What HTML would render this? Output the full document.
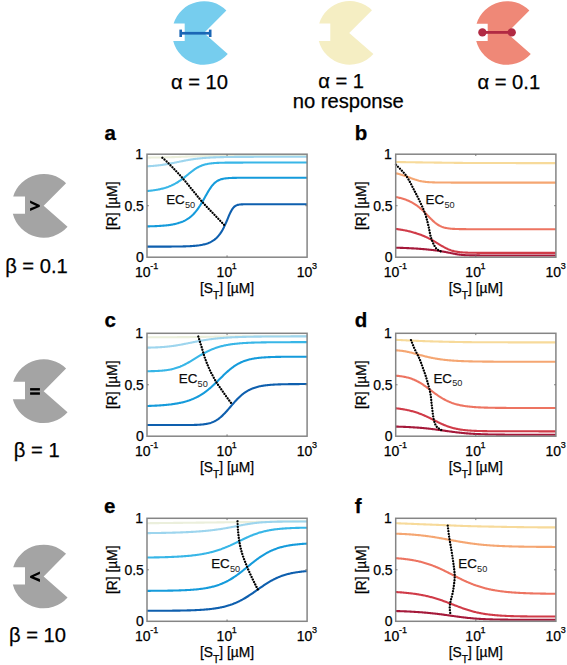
<!DOCTYPE html>
<html><head><meta charset="utf-8"><style>
html,body{margin:0;padding:0;background:#fff;}
svg{display:block;}
text{font-family:"Liberation Sans", sans-serif;stroke:#000;stroke-width:0.25px;}
</style></head><body>
<svg width="567" height="665" viewBox="0 0 567 665">
<rect width="567" height="665" fill="#fff"/>
<path d="M204.00 33.00 L226.37 10.40 A31.80 31.80 0 0 0 173.62 23.60 L184.70 23.60 L184.70 40.90 L173.20 40.90 A31.80 31.80 0 0 0 227.78 54.11 Z" fill="#76cdee"/>
<path d="M349.20 32.90 L371.97 10.30 A31.80 31.80 0 0 0 319.22 23.50 L330.30 23.50 L330.30 40.90 L318.82 40.90 A31.80 31.80 0 0 0 373.38 54.01 Z" fill="#f5eec3"/>
<path d="M507.00 33.00 L529.37 10.40 A31.80 31.80 0 0 0 476.59 23.70 L487.70 23.70 L487.70 41.00 L476.22 41.00 A31.80 31.80 0 0 0 530.78 54.11 Z" fill="#ef8877"/>
<g fill="#1a66b5"><rect x="181" y="31.9" width="29" height="2.7"/><rect x="179.4" y="29.6" width="2.6" height="7.4"/><rect x="208.9" y="29.6" width="2.6" height="7.4"/></g>
<g fill="#b12a43"><rect x="482.4" y="31.0" width="29.3" height="2.8"/><circle cx="482.4" cy="32.4" r="4.2"/><circle cx="511.7" cy="32.4" r="4.2"/></g>
<path d="M43.66 205.80 L66.06 183.16 A31.85 31.85 0 0 0 13.20 196.50 L25.00 196.50 L25.00 213.80 L12.83 213.80 A31.85 31.85 0 0 0 67.55 226.86 Z" fill="#a4a4a4"/>
<path d="M43.66 391.15 L66.06 368.51 A31.85 31.85 0 0 0 13.20 381.85 L25.00 381.85 L25.00 399.15 L12.83 399.15 A31.85 31.85 0 0 0 67.55 412.21 Z" fill="#a4a4a4"/>
<path d="M43.66 576.50 L66.06 553.86 A31.85 31.85 0 0 0 13.20 567.20 L25.00 567.20 L25.00 584.50 L12.83 584.50 A31.85 31.85 0 0 0 67.55 597.56 Z" fill="#a4a4a4"/>
<g fill="#000"><path d="M30.1 200.4 L39.8 205.1 L39.8 206.7 L30.1 211.1 L30.1 208.3 L36.3 205.9 L30.1 203.1 Z"/><path d="M39.9 571.4 L30.1 576.0 L30.1 577.7 L39.9 581.9 L39.9 579.0 L33.7 576.85 L39.9 574.1 Z"/><rect x="30.1" y="388.1" width="9.8" height="2.4"/><rect x="30.1" y="392.3" width="9.8" height="2.45"/></g>
<text x="170.94" y="88.90" font-size="20.20" font-weight="normal" fill="#000">α = 10</text>
<text x="318.20" y="88.40" font-size="20.20" font-weight="normal" fill="#000">α = 1</text>
<text x="292.74" y="108.20" font-size="20.20" font-weight="normal" fill="#000">no response</text>
<text x="477.43" y="88.90" font-size="20.20" font-weight="normal" fill="#000">α = 0.1</text>
<text x="5.13" y="273.30" font-size="20.20" font-weight="normal" fill="#000">β = 0.1</text>
<text x="13.81" y="456.50" font-size="20.20" font-weight="normal" fill="#000">β = 1</text>
<text x="8.94" y="642.00" font-size="20.20" font-weight="normal" fill="#000">β = 10</text>
<path d="M147.00 157.60 L147.80 157.59 L148.61 157.59 L149.41 157.58 L150.22 157.58 L151.02 157.57 L151.83 157.56 L152.63 157.55 L153.44 157.55 L154.24 157.54 L155.05 157.53 L155.85 157.52 L156.65 157.51 L157.46 157.49 L158.26 157.48 L159.07 157.47 L159.87 157.46 L160.68 157.44 L161.48 157.43 L162.29 157.41 L163.09 157.39 L163.89 157.38 L164.70 157.36 L165.50 157.34 L166.31 157.32 L167.11 157.30 L167.92 157.28 L168.72 157.25 L169.53 157.23 L170.33 157.21 L171.14 157.18 L171.94 157.16 L172.74 157.13 L173.55 157.10 L174.35 157.08 L175.16 157.05 L175.96 157.02 L176.77 156.99 L177.57 156.96 L178.38 156.93 L179.18 156.90 L179.99 156.87 L180.79 156.84 L181.59 156.81 L182.40 156.77 L183.20 156.74 L184.01 156.71 L184.81 156.68 L185.62 156.65 L186.42 156.62 L187.23 156.59 L188.03 156.56 L188.84 156.53 L189.64 156.50 L190.44 156.47 L191.25 156.44 L192.05 156.41 L192.86 156.38 L193.66 156.36 L194.47 156.33 L195.27 156.30 L196.08 156.28 L196.88 156.26 L197.68 156.23 L198.49 156.21 L199.29 156.19 L200.10 156.17 L200.90 156.14 L201.71 156.12 L202.51 156.10 L203.32 156.09 L204.12 156.07 L204.93 156.05 L205.73 156.03 L206.53 156.02 L207.34 156.00 L208.14 155.99 L208.95 155.97 L209.75 155.96 L210.56 155.95 L211.36 155.94 L212.17 155.92 L212.97 155.91 L213.78 155.90 L214.58 155.89 L215.38 155.88 L216.19 155.87 L216.99 155.87 L217.80 155.86 L218.60 155.85 L219.41 155.84 L220.21 155.83 L221.02 155.83 L221.82 155.82 L222.63 155.81 L223.43 155.81 L224.23 155.80 L225.04 155.80 L225.84 155.79 L226.65 155.79 L227.45 155.78 L228.26 155.78 L229.06 155.78 L229.87 155.77 L230.67 155.77 L231.47 155.77 L232.28 155.76 L233.08 155.76 L233.89 155.76 L234.69 155.75 L235.50 155.75 L236.30 155.75 L237.11 155.75 L237.91 155.74 L238.72 155.74 L239.52 155.74 L240.32 155.74 L241.13 155.74 L241.93 155.73 L242.74 155.73 L243.54 155.73 L244.35 155.73 L245.15 155.73 L245.96 155.73 L246.76 155.73 L247.57 155.73 L248.37 155.72 L249.17 155.72 L249.98 155.72 L250.78 155.72 L251.59 155.72 L252.39 155.72 L253.20 155.72 L254.00 155.72 L254.81 155.72 L255.61 155.72 L256.42 155.72 L257.22 155.72 L258.02 155.72 L258.83 155.71 L259.63 155.71 L260.44 155.71 L261.24 155.71 L262.05 155.71 L262.85 155.71 L263.66 155.71 L264.46 155.71 L265.26 155.71 L266.07 155.71 L266.87 155.71 L267.68 155.71 L268.48 155.71 L269.29 155.71 L270.09 155.71 L270.90 155.71 L271.70 155.71 L272.51 155.71 L273.31 155.71 L274.11 155.71 L274.92 155.71 L275.72 155.71 L276.53 155.71 L277.33 155.71 L278.14 155.71 L278.94 155.71 L279.75 155.71 L280.55 155.71 L281.36 155.71 L282.16 155.71 L282.96 155.71 L283.77 155.71 L284.57 155.71 L285.38 155.71 L286.18 155.71 L286.99 155.71 L287.79 155.71 L288.60 155.71 L289.40 155.71 L290.21 155.71 L291.01 155.71 L291.81 155.71 L292.62 155.71 L293.42 155.71 L294.23 155.71 L295.03 155.71 L295.84 155.71 L296.64 155.71 L297.45 155.71 L298.25 155.71 L299.05 155.71 L299.86 155.71 L300.66 155.71 L301.47 155.71 L302.27 155.71 L303.08 155.71 L303.88 155.71 L304.69 155.71 L305.49 155.71 L306.30 155.71 L307.10 155.71" stroke="#ebefdc" stroke-width="2.1" fill="none" stroke-linejoin="round"/>
<path d="M147.00 166.28 L147.80 166.24 L148.61 166.20 L149.41 166.15 L150.22 166.10 L151.02 166.05 L151.83 165.99 L152.63 165.93 L153.44 165.87 L154.24 165.80 L155.05 165.73 L155.85 165.65 L156.65 165.58 L157.46 165.49 L158.26 165.40 L159.07 165.31 L159.87 165.21 L160.68 165.11 L161.48 165.01 L162.29 164.90 L163.09 164.78 L163.89 164.66 L164.70 164.54 L165.50 164.41 L166.31 164.28 L167.11 164.14 L167.92 164.00 L168.72 163.86 L169.53 163.71 L170.33 163.56 L171.14 163.40 L171.94 163.24 L172.74 163.08 L173.55 162.92 L174.35 162.76 L175.16 162.59 L175.96 162.43 L176.77 162.26 L177.57 162.09 L178.38 161.92 L179.18 161.76 L179.99 161.59 L180.79 161.42 L181.59 161.26 L182.40 161.10 L183.20 160.94 L184.01 160.78 L184.81 160.62 L185.62 160.47 L186.42 160.32 L187.23 160.17 L188.03 160.03 L188.84 159.89 L189.64 159.75 L190.44 159.62 L191.25 159.49 L192.05 159.37 L192.86 159.25 L193.66 159.13 L194.47 159.02 L195.27 158.91 L196.08 158.81 L196.88 158.71 L197.68 158.61 L198.49 158.52 L199.29 158.43 L200.10 158.35 L200.90 158.27 L201.71 158.19 L202.51 158.12 L203.32 158.05 L204.12 157.98 L204.93 157.92 L205.73 157.85 L206.53 157.80 L207.34 157.74 L208.14 157.69 L208.95 157.64 L209.75 157.59 L210.56 157.55 L211.36 157.51 L212.17 157.47 L212.97 157.43 L213.78 157.39 L214.58 157.36 L215.38 157.33 L216.19 157.30 L216.99 157.27 L217.80 157.24 L218.60 157.21 L219.41 157.19 L220.21 157.17 L221.02 157.15 L221.82 157.13 L222.63 157.11 L223.43 157.09 L224.23 157.07 L225.04 157.06 L225.84 157.04 L226.65 157.03 L227.45 157.01 L228.26 157.00 L229.06 156.99 L229.87 156.98 L230.67 156.97 L231.47 156.96 L232.28 156.95 L233.08 156.94 L233.89 156.93 L234.69 156.92 L235.50 156.91 L236.30 156.91 L237.11 156.90 L237.91 156.89 L238.72 156.89 L239.52 156.88 L240.32 156.88 L241.13 156.87 L241.93 156.87 L242.74 156.86 L243.54 156.86 L244.35 156.86 L245.15 156.85 L245.96 156.85 L246.76 156.85 L247.57 156.84 L248.37 156.84 L249.17 156.84 L249.98 156.83 L250.78 156.83 L251.59 156.83 L252.39 156.83 L253.20 156.83 L254.00 156.82 L254.81 156.82 L255.61 156.82 L256.42 156.82 L257.22 156.82 L258.02 156.82 L258.83 156.82 L259.63 156.81 L260.44 156.81 L261.24 156.81 L262.05 156.81 L262.85 156.81 L263.66 156.81 L264.46 156.81 L265.26 156.81 L266.07 156.81 L266.87 156.81 L267.68 156.81 L268.48 156.80 L269.29 156.80 L270.09 156.80 L270.90 156.80 L271.70 156.80 L272.51 156.80 L273.31 156.80 L274.11 156.80 L274.92 156.80 L275.72 156.80 L276.53 156.80 L277.33 156.80 L278.14 156.80 L278.94 156.80 L279.75 156.80 L280.55 156.80 L281.36 156.80 L282.16 156.80 L282.96 156.80 L283.77 156.80 L284.57 156.80 L285.38 156.80 L286.18 156.80 L286.99 156.80 L287.79 156.80 L288.60 156.80 L289.40 156.80 L290.21 156.80 L291.01 156.80 L291.81 156.80 L292.62 156.80 L293.42 156.80 L294.23 156.80 L295.03 156.80 L295.84 156.80 L296.64 156.80 L297.45 156.80 L298.25 156.80 L299.05 156.80 L299.86 156.80 L300.66 156.80 L301.47 156.80 L302.27 156.80 L303.08 156.80 L303.88 156.80 L304.69 156.80 L305.49 156.80 L306.30 156.80 L307.10 156.80" stroke="#9dd5ee" stroke-width="2.1" fill="none" stroke-linejoin="round"/>
<path d="M147.00 191.07 L147.80 190.99 L148.61 190.91 L149.41 190.82 L150.22 190.73 L151.02 190.64 L151.83 190.54 L152.63 190.43 L153.44 190.32 L154.24 190.20 L155.05 190.08 L155.85 189.95 L156.65 189.81 L157.46 189.67 L158.26 189.51 L159.07 189.35 L159.87 189.18 L160.68 189.00 L161.48 188.82 L162.29 188.62 L163.09 188.41 L163.89 188.19 L164.70 187.96 L165.50 187.71 L166.31 187.46 L167.11 187.19 L167.92 186.91 L168.72 186.61 L169.53 186.30 L170.33 185.97 L171.14 185.63 L171.94 185.27 L172.74 184.89 L173.55 184.49 L174.35 184.08 L175.16 183.65 L175.96 183.20 L176.77 182.73 L177.57 182.24 L178.38 181.74 L179.18 181.21 L179.99 180.67 L180.79 180.10 L181.59 179.52 L182.40 178.93 L183.20 178.32 L184.01 177.69 L184.81 177.06 L185.62 176.41 L186.42 175.76 L187.23 175.10 L188.03 174.45 L188.84 173.79 L189.64 173.14 L190.44 172.49 L191.25 171.85 L192.05 171.23 L192.86 170.63 L193.66 170.04 L194.47 169.47 L195.27 168.93 L196.08 168.42 L196.88 167.93 L197.68 167.46 L198.49 167.03 L199.29 166.63 L200.10 166.25 L200.90 165.90 L201.71 165.58 L202.51 165.28 L203.32 165.01 L204.12 164.76 L204.93 164.54 L205.73 164.33 L206.53 164.15 L207.34 163.98 L208.14 163.83 L208.95 163.69 L209.75 163.57 L210.56 163.46 L211.36 163.36 L212.17 163.27 L212.97 163.20 L213.78 163.13 L214.58 163.06 L215.38 163.01 L216.19 162.96 L216.99 162.91 L217.80 162.88 L218.60 162.84 L219.41 162.81 L220.21 162.78 L221.02 162.76 L221.82 162.74 L222.63 162.72 L223.43 162.70 L224.23 162.69 L225.04 162.67 L225.84 162.66 L226.65 162.65 L227.45 162.64 L228.26 162.63 L229.06 162.62 L229.87 162.62 L230.67 162.61 L231.47 162.61 L232.28 162.60 L233.08 162.60 L233.89 162.60 L234.69 162.59 L235.50 162.59 L236.30 162.59 L237.11 162.58 L237.91 162.58 L238.72 162.58 L239.52 162.58 L240.32 162.58 L241.13 162.58 L241.93 162.58 L242.74 162.58 L243.54 162.57 L244.35 162.57 L245.15 162.57 L245.96 162.57 L246.76 162.57 L247.57 162.57 L248.37 162.57 L249.17 162.57 L249.98 162.57 L250.78 162.57 L251.59 162.57 L252.39 162.57 L253.20 162.57 L254.00 162.57 L254.81 162.57 L255.61 162.57 L256.42 162.57 L257.22 162.57 L258.02 162.57 L258.83 162.57 L259.63 162.57 L260.44 162.57 L261.24 162.57 L262.05 162.57 L262.85 162.57 L263.66 162.57 L264.46 162.57 L265.26 162.57 L266.07 162.57 L266.87 162.57 L267.68 162.57 L268.48 162.57 L269.29 162.57 L270.09 162.57 L270.90 162.57 L271.70 162.57 L272.51 162.57 L273.31 162.57 L274.11 162.57 L274.92 162.57 L275.72 162.57 L276.53 162.57 L277.33 162.57 L278.14 162.57 L278.94 162.57 L279.75 162.57 L280.55 162.57 L281.36 162.57 L282.16 162.57 L282.96 162.57 L283.77 162.57 L284.57 162.57 L285.38 162.57 L286.18 162.57 L286.99 162.57 L287.79 162.57 L288.60 162.57 L289.40 162.57 L290.21 162.57 L291.01 162.57 L291.81 162.57 L292.62 162.57 L293.42 162.57 L294.23 162.57 L295.03 162.57 L295.84 162.57 L296.64 162.57 L297.45 162.57 L298.25 162.57 L299.05 162.57 L299.86 162.57 L300.66 162.57 L301.47 162.57 L302.27 162.57 L303.08 162.57 L303.88 162.57 L304.69 162.57 L305.49 162.57 L306.30 162.57 L307.10 162.57" stroke="#38b6e7" stroke-width="2.1" fill="none" stroke-linejoin="round"/>
<path d="M147.00 226.39 L147.80 226.37 L148.61 226.35 L149.41 226.33 L150.22 226.31 L151.02 226.29 L151.83 226.26 L152.63 226.24 L153.44 226.21 L154.24 226.18 L155.05 226.15 L155.85 226.11 L156.65 226.08 L157.46 226.04 L158.26 226.00 L159.07 225.95 L159.87 225.90 L160.68 225.85 L161.48 225.80 L162.29 225.74 L163.09 225.67 L163.89 225.61 L164.70 225.53 L165.50 225.46 L166.31 225.37 L167.11 225.28 L167.92 225.19 L168.72 225.09 L169.53 224.98 L170.33 224.86 L171.14 224.73 L171.94 224.60 L172.74 224.46 L173.55 224.30 L174.35 224.14 L175.16 223.96 L175.96 223.77 L176.77 223.57 L177.57 223.35 L178.38 223.12 L179.18 222.87 L179.99 222.61 L180.79 222.32 L181.59 222.02 L182.40 221.69 L183.20 221.35 L184.01 220.97 L184.81 220.58 L185.62 220.15 L186.42 219.70 L187.23 219.21 L188.03 218.69 L188.84 218.13 L189.64 217.54 L190.44 216.91 L191.25 216.24 L192.05 215.52 L192.86 214.75 L193.66 213.94 L194.47 213.08 L195.27 212.16 L196.08 211.19 L196.88 210.17 L197.68 209.09 L198.49 207.96 L199.29 206.78 L200.10 205.54 L200.90 204.25 L201.71 202.92 L202.51 201.54 L203.32 200.14 L204.12 198.72 L204.93 197.28 L205.73 195.83 L206.53 194.40 L207.34 193.00 L208.14 191.62 L208.95 190.30 L209.75 189.04 L210.56 187.84 L211.36 186.72 L212.17 185.68 L212.97 184.73 L213.78 183.86 L214.58 183.08 L215.38 182.38 L216.19 181.75 L216.99 181.20 L217.80 180.72 L218.60 180.30 L219.41 179.93 L220.21 179.61 L221.02 179.34 L221.82 179.11 L222.63 178.90 L223.43 178.73 L224.23 178.58 L225.04 178.46 L225.84 178.35 L226.65 178.26 L227.45 178.19 L228.26 178.12 L229.06 178.06 L229.87 178.02 L230.67 177.98 L231.47 177.95 L232.28 177.92 L233.08 177.89 L233.89 177.87 L234.69 177.86 L235.50 177.84 L236.30 177.83 L237.11 177.82 L237.91 177.81 L238.72 177.80 L239.52 177.80 L240.32 177.79 L241.13 177.79 L241.93 177.78 L242.74 177.78 L243.54 177.78 L244.35 177.78 L245.15 177.77 L245.96 177.77 L246.76 177.77 L247.57 177.77 L248.37 177.77 L249.17 177.77 L249.98 177.77 L250.78 177.77 L251.59 177.77 L252.39 177.77 L253.20 177.77 L254.00 177.76 L254.81 177.76 L255.61 177.76 L256.42 177.76 L257.22 177.76 L258.02 177.76 L258.83 177.76 L259.63 177.76 L260.44 177.76 L261.24 177.76 L262.05 177.76 L262.85 177.76 L263.66 177.76 L264.46 177.76 L265.26 177.76 L266.07 177.76 L266.87 177.76 L267.68 177.76 L268.48 177.76 L269.29 177.76 L270.09 177.76 L270.90 177.76 L271.70 177.76 L272.51 177.76 L273.31 177.76 L274.11 177.76 L274.92 177.76 L275.72 177.76 L276.53 177.76 L277.33 177.76 L278.14 177.76 L278.94 177.76 L279.75 177.76 L280.55 177.76 L281.36 177.76 L282.16 177.76 L282.96 177.76 L283.77 177.76 L284.57 177.76 L285.38 177.76 L286.18 177.76 L286.99 177.76 L287.79 177.76 L288.60 177.76 L289.40 177.76 L290.21 177.76 L291.01 177.76 L291.81 177.76 L292.62 177.76 L293.42 177.76 L294.23 177.76 L295.03 177.76 L295.84 177.76 L296.64 177.76 L297.45 177.76 L298.25 177.76 L299.05 177.76 L299.86 177.76 L300.66 177.76 L301.47 177.76 L302.27 177.76 L303.08 177.76 L303.88 177.76 L304.69 177.76 L305.49 177.76 L306.30 177.76 L307.10 177.76" stroke="#159bdb" stroke-width="2.1" fill="none" stroke-linejoin="round"/>
<path d="M147.00 246.63 L147.80 246.63 L148.61 246.63 L149.41 246.63 L150.22 246.63 L151.02 246.63 L151.83 246.63 L152.63 246.63 L153.44 246.63 L154.24 246.63 L155.05 246.63 L155.85 246.62 L156.65 246.62 L157.46 246.62 L158.26 246.62 L159.07 246.62 L159.87 246.62 L160.68 246.62 L161.48 246.61 L162.29 246.61 L163.09 246.61 L163.89 246.61 L164.70 246.61 L165.50 246.60 L166.31 246.60 L167.11 246.60 L167.92 246.59 L168.72 246.59 L169.53 246.59 L170.33 246.58 L171.14 246.58 L171.94 246.57 L172.74 246.56 L173.55 246.56 L174.35 246.55 L175.16 246.54 L175.96 246.53 L176.77 246.52 L177.57 246.51 L178.38 246.50 L179.18 246.49 L179.99 246.48 L180.79 246.46 L181.59 246.45 L182.40 246.43 L183.20 246.41 L184.01 246.39 L184.81 246.37 L185.62 246.34 L186.42 246.31 L187.23 246.28 L188.03 246.25 L188.84 246.22 L189.64 246.18 L190.44 246.14 L191.25 246.09 L192.05 246.04 L192.86 245.98 L193.66 245.92 L194.47 245.86 L195.27 245.79 L196.08 245.71 L196.88 245.62 L197.68 245.53 L198.49 245.43 L199.29 245.32 L200.10 245.19 L200.90 245.06 L201.71 244.92 L202.51 244.76 L203.32 244.58 L204.12 244.39 L204.93 244.19 L205.73 243.96 L206.53 243.71 L207.34 243.44 L208.14 243.15 L208.95 242.83 L209.75 242.48 L210.56 242.09 L211.36 241.67 L212.17 241.21 L212.97 240.71 L213.78 240.17 L214.58 239.57 L215.38 238.92 L216.19 238.21 L216.99 237.43 L217.80 236.59 L218.60 235.67 L219.41 234.66 L220.21 233.57 L221.02 232.38 L221.82 231.10 L222.63 229.70 L223.43 228.21 L224.23 226.60 L225.04 224.89 L225.84 223.09 L226.65 221.21 L227.45 219.29 L228.26 217.35 L229.06 215.45 L229.87 213.63 L230.67 211.94 L231.47 210.43 L232.28 209.12 L233.08 208.02 L233.89 207.12 L234.69 206.41 L235.50 205.85 L236.30 205.43 L237.11 205.11 L237.91 204.88 L238.72 204.70 L239.52 204.57 L240.32 204.48 L241.13 204.41 L241.93 204.36 L242.74 204.33 L243.54 204.30 L244.35 204.28 L245.15 204.27 L245.96 204.26 L246.76 204.25 L247.57 204.25 L248.37 204.24 L249.17 204.24 L249.98 204.24 L250.78 204.24 L251.59 204.24 L252.39 204.24 L253.20 204.24 L254.00 204.23 L254.81 204.23 L255.61 204.23 L256.42 204.23 L257.22 204.23 L258.02 204.23 L258.83 204.23 L259.63 204.23 L260.44 204.23 L261.24 204.23 L262.05 204.23 L262.85 204.23 L263.66 204.23 L264.46 204.23 L265.26 204.23 L266.07 204.23 L266.87 204.23 L267.68 204.23 L268.48 204.23 L269.29 204.23 L270.09 204.23 L270.90 204.23 L271.70 204.23 L272.51 204.23 L273.31 204.23 L274.11 204.23 L274.92 204.23 L275.72 204.23 L276.53 204.23 L277.33 204.23 L278.14 204.23 L278.94 204.23 L279.75 204.23 L280.55 204.23 L281.36 204.23 L282.16 204.23 L282.96 204.23 L283.77 204.23 L284.57 204.23 L285.38 204.23 L286.18 204.23 L286.99 204.23 L287.79 204.23 L288.60 204.23 L289.40 204.23 L290.21 204.23 L291.01 204.23 L291.81 204.23 L292.62 204.23 L293.42 204.23 L294.23 204.23 L295.03 204.23 L295.84 204.23 L296.64 204.23 L297.45 204.23 L298.25 204.23 L299.05 204.23 L299.86 204.23 L300.66 204.23 L301.47 204.23 L302.27 204.23 L303.08 204.23 L303.88 204.23 L304.69 204.23 L305.49 204.23 L306.30 204.23 L307.10 204.23" stroke="#0e5fae" stroke-width="2.1" fill="none" stroke-linejoin="round"/>
<path d="M162.40 157.80 L162.68 158.04 L162.93 158.27 L163.17 158.47 L163.41 158.66 L163.63 158.85 L163.85 159.02 L164.06 159.20 L164.28 159.37 L164.50 159.55 L164.72 159.74 L164.96 159.94 L165.22 160.16 L165.48 160.40 L165.77 160.66 L166.08 160.94 L166.42 161.26 L166.79 161.61 L167.19 162.00 L167.63 162.43 L168.10 162.90 L168.62 163.42 L169.18 163.99 L169.79 164.61 L170.43 165.26 L171.10 165.95 L171.80 166.67 L172.53 167.41 L173.27 168.18 L174.03 168.97 L174.81 169.78 L175.58 170.59 L176.37 171.41 L177.14 172.23 L177.92 173.05 L178.68 173.86 L179.43 174.67 L180.16 175.46 L180.87 176.23 L181.55 176.98 L182.20 177.70 L182.83 178.41 L183.45 179.11 L184.06 179.82 L184.66 180.52 L185.25 181.22 L185.84 181.92 L186.42 182.62 L186.99 183.31 L187.55 184.00 L188.11 184.69 L188.66 185.37 L189.21 186.04 L189.75 186.71 L190.29 187.37 L190.82 188.03 L191.34 188.68 L191.86 189.32 L192.38 189.96 L192.89 190.58 L193.40 191.20 L193.90 191.81 L194.39 192.40 L194.86 192.98 L195.32 193.55 L195.78 194.11 L196.22 194.66 L196.66 195.21 L197.10 195.75 L197.53 196.29 L197.96 196.82 L198.39 197.35 L198.82 197.88 L199.26 198.41 L199.70 198.93 L200.14 199.47 L200.59 200.00 L201.05 200.54 L201.52 201.09 L202.00 201.64 L202.50 202.20 L203.01 202.77 L203.52 203.34 L204.05 203.91 L204.58 204.49 L205.12 205.07 L205.67 205.65 L206.22 206.23 L206.78 206.82 L207.34 207.40 L207.90 207.99 L208.46 208.57 L209.03 209.16 L209.60 209.75 L210.16 210.33 L210.73 210.91 L211.29 211.50 L211.85 212.08 L212.40 212.65 L212.95 213.23 L213.50 213.80 L214.04 214.37 L214.58 214.94 L215.12 215.50 L215.66 216.07 L216.20 216.63 L216.73 217.19 L217.27 217.75 L217.80 218.31 L218.34 218.87 L218.87 219.43 L219.40 219.98 L219.93 220.54 L220.47 221.10 L221.00 221.65 L221.53 222.21 L222.06 222.77 L222.60 223.32 L223.13 223.88 L223.67 224.44 L224.20 225.00" stroke="#000" stroke-width="2.35" fill="none" stroke-linecap="round" stroke-dasharray="0.01 2.75"/>
<rect x="147.00" y="154.20" width="160.10" height="103.00" fill="none" stroke="#858585" stroke-width="1.5"/>
<path d="M147.00 205.70 h1.8 M307.10 205.70 h-1.8 M227.05 257.20 v-1.8 M227.05 154.20 v1.8" stroke="#777" stroke-width="1"/>
<text x="136.06" y="262.15" font-size="14.00" font-weight="normal" fill="#000">0</text>
<text x="124.43" y="210.65" font-size="14.00" font-weight="normal" fill="#000">0.5</text>
<text x="135.30" y="159.00" font-size="14.00" font-weight="normal" fill="#000">1</text>
<text x="135.05" y="276.90" font-size="14.00">10</text>
<text x="150.32" y="268.80" font-size="9.00">-1</text>
<text x="216.60" y="276.90" font-size="14.00">10</text>
<text x="231.87" y="268.80" font-size="9.00">1</text>
<text x="296.63" y="276.90" font-size="14.00">10</text>
<text x="311.90" y="268.80" font-size="9.00">3</text>
<text x="199.99" y="292.50" font-size="13.80">[S</text>
<text x="213.03" y="299.20" font-size="10.30">T</text>
<text x="219.32" y="292.50" font-size="13.80">] [µM]</text>
<text transform="translate(117.04 205.70) rotate(-90)" x="-24.29" y="0" font-size="13.80">[R] [µM]</text>
<text x="166.21" y="204.00" font-size="13.30" font-weight="normal" fill="#111">EC</text>
<text x="184.98" y="207.60" font-size="9.2" fill="#222" style="stroke:none">50</text>
<path d="M395.70 162.00 L396.50 162.01 L397.31 162.03 L398.11 162.04 L398.91 162.06 L399.72 162.07 L400.52 162.08 L401.32 162.10 L402.13 162.11 L402.93 162.12 L403.74 162.14 L404.54 162.15 L405.34 162.16 L406.15 162.18 L406.95 162.19 L407.75 162.20 L408.56 162.22 L409.36 162.23 L410.16 162.24 L410.97 162.25 L411.77 162.27 L412.57 162.28 L413.38 162.29 L414.18 162.30 L414.98 162.32 L415.79 162.33 L416.59 162.34 L417.39 162.35 L418.20 162.36 L419.00 162.38 L419.81 162.39 L420.61 162.40 L421.41 162.41 L422.22 162.42 L423.02 162.43 L423.82 162.45 L424.63 162.46 L425.43 162.47 L426.23 162.48 L427.04 162.49 L427.84 162.50 L428.64 162.51 L429.45 162.52 L430.25 162.53 L431.05 162.54 L431.86 162.55 L432.66 162.56 L433.47 162.57 L434.27 162.58 L435.07 162.59 L435.88 162.60 L436.68 162.61 L437.48 162.62 L438.29 162.63 L439.09 162.64 L439.89 162.65 L440.70 162.66 L441.50 162.67 L442.30 162.68 L443.11 162.69 L443.91 162.70 L444.71 162.71 L445.52 162.72 L446.32 162.73 L447.13 162.74 L447.93 162.75 L448.73 162.76 L449.54 162.77 L450.34 162.78 L451.14 162.79 L451.95 162.80 L452.75 162.81 L453.55 162.82 L454.36 162.83 L455.16 162.84 L455.96 162.85 L456.77 162.86 L457.57 162.87 L458.37 162.88 L459.18 162.89 L459.98 162.89 L460.78 162.90 L461.59 162.91 L462.39 162.92 L463.20 162.93 L464.00 162.93 L464.80 162.94 L465.61 162.95 L466.41 162.95 L467.21 162.96 L468.02 162.96 L468.82 162.97 L469.62 162.97 L470.43 162.98 L471.23 162.98 L472.03 162.99 L472.84 162.99 L473.64 162.99 L474.44 163.00 L475.25 163.00 L476.05 163.00 L476.86 163.00 L477.66 163.00 L478.46 163.01 L479.27 163.01 L480.07 163.01 L480.87 163.01 L481.68 163.01 L482.48 163.02 L483.28 163.02 L484.09 163.02 L484.89 163.02 L485.69 163.02 L486.50 163.02 L487.30 163.03 L488.10 163.03 L488.91 163.03 L489.71 163.03 L490.52 163.03 L491.32 163.03 L492.12 163.04 L492.93 163.04 L493.73 163.04 L494.53 163.04 L495.34 163.04 L496.14 163.04 L496.94 163.05 L497.75 163.05 L498.55 163.05 L499.35 163.05 L500.16 163.05 L500.96 163.05 L501.76 163.05 L502.57 163.06 L503.37 163.06 L504.17 163.06 L504.98 163.06 L505.78 163.06 L506.59 163.06 L507.39 163.06 L508.19 163.06 L509.00 163.07 L509.80 163.07 L510.60 163.07 L511.41 163.07 L512.21 163.07 L513.01 163.07 L513.82 163.07 L514.62 163.07 L515.42 163.07 L516.23 163.08 L517.03 163.08 L517.83 163.08 L518.64 163.08 L519.44 163.08 L520.25 163.08 L521.05 163.08 L521.85 163.08 L522.66 163.08 L523.46 163.08 L524.26 163.08 L525.07 163.08 L525.87 163.09 L526.67 163.09 L527.48 163.09 L528.28 163.09 L529.08 163.09 L529.89 163.09 L530.69 163.09 L531.49 163.09 L532.30 163.09 L533.10 163.09 L533.91 163.09 L534.71 163.09 L535.51 163.09 L536.32 163.09 L537.12 163.09 L537.92 163.09 L538.73 163.10 L539.53 163.10 L540.33 163.10 L541.14 163.10 L541.94 163.10 L542.74 163.10 L543.55 163.10 L544.35 163.10 L545.15 163.10 L545.96 163.10 L546.76 163.10 L547.56 163.10 L548.37 163.10 L549.17 163.10 L549.98 163.10 L550.78 163.10 L551.58 163.10 L552.39 163.10 L553.19 163.10 L553.99 163.10 L554.80 163.10 L555.60 163.10" stroke="#f7da9a" stroke-width="2.1" fill="none" stroke-linejoin="round"/>
<path d="M395.70 173.30 L396.51 173.46 L397.31 173.63 L398.12 173.81 L398.92 174.01 L399.73 174.21 L400.53 174.43 L401.34 174.66 L402.14 174.90 L402.95 175.15 L403.75 175.42 L404.56 175.69 L405.36 175.98 L406.17 176.27 L406.97 176.57 L407.78 176.88 L408.58 177.19 L409.39 177.50 L410.19 177.81 L411.00 178.12 L411.80 178.43 L412.61 178.73 L413.41 179.03 L414.22 179.31 L415.02 179.59 L415.83 179.85 L416.63 180.09 L417.44 180.33 L418.24 180.54 L419.05 180.75 L419.85 180.93 L420.66 181.10 L421.46 181.26 L422.27 181.41 L423.07 181.54 L423.88 181.65 L424.68 181.76 L425.49 181.85 L426.29 181.94 L427.10 182.01 L427.90 182.08 L428.71 182.14 L429.51 182.20 L430.32 182.24 L431.12 182.28 L431.93 182.32 L432.73 182.35 L433.54 182.38 L434.34 182.41 L435.15 182.43 L435.95 182.45 L436.76 182.47 L437.56 182.48 L438.37 182.49 L439.17 182.51 L439.98 182.52 L440.78 182.52 L441.59 182.53 L442.39 182.54 L443.20 182.55 L444.00 182.55 L444.81 182.56 L445.61 182.56 L446.42 182.56 L447.22 182.57 L448.03 182.57 L448.83 182.57 L449.64 182.57 L450.44 182.57 L451.25 182.58 L452.05 182.58 L452.86 182.58 L453.66 182.58 L454.47 182.58 L455.27 182.58 L456.08 182.58 L456.88 182.58 L457.69 182.58 L458.49 182.58 L459.30 182.58 L460.10 182.58 L460.91 182.59 L461.71 182.59 L462.52 182.59 L463.32 182.59 L464.13 182.59 L464.93 182.59 L465.74 182.59 L466.54 182.59 L467.35 182.59 L468.15 182.59 L468.96 182.59 L469.76 182.59 L470.57 182.59 L471.37 182.59 L472.18 182.59 L472.98 182.59 L473.79 182.59 L474.59 182.59 L475.40 182.59 L476.20 182.59 L477.01 182.59 L477.81 182.59 L478.62 182.59 L479.42 182.59 L480.23 182.59 L481.03 182.59 L481.84 182.59 L482.64 182.59 L483.45 182.59 L484.25 182.59 L485.06 182.59 L485.86 182.59 L486.67 182.59 L487.47 182.59 L488.28 182.59 L489.08 182.59 L489.89 182.59 L490.69 182.59 L491.50 182.59 L492.30 182.59 L493.11 182.59 L493.91 182.59 L494.72 182.59 L495.52 182.59 L496.33 182.59 L497.13 182.59 L497.94 182.59 L498.74 182.59 L499.55 182.59 L500.35 182.59 L501.16 182.59 L501.96 182.59 L502.77 182.59 L503.57 182.59 L504.38 182.59 L505.18 182.59 L505.99 182.59 L506.79 182.59 L507.60 182.59 L508.40 182.59 L509.21 182.59 L510.01 182.59 L510.82 182.59 L511.62 182.59 L512.43 182.59 L513.23 182.59 L514.04 182.59 L514.84 182.59 L515.65 182.59 L516.45 182.59 L517.26 182.59 L518.06 182.59 L518.87 182.59 L519.67 182.59 L520.48 182.59 L521.28 182.59 L522.09 182.59 L522.89 182.59 L523.70 182.59 L524.50 182.59 L525.31 182.59 L526.11 182.59 L526.92 182.59 L527.72 182.59 L528.53 182.59 L529.33 182.59 L530.14 182.59 L530.94 182.59 L531.75 182.59 L532.55 182.59 L533.36 182.59 L534.16 182.59 L534.97 182.59 L535.77 182.59 L536.58 182.59 L537.38 182.59 L538.19 182.59 L538.99 182.59 L539.80 182.59 L540.60 182.59 L541.41 182.59 L542.21 182.59 L543.02 182.59 L543.82 182.59 L544.63 182.59 L545.43 182.59 L546.24 182.59 L547.04 182.59 L547.85 182.59 L548.65 182.59 L549.46 182.59 L550.26 182.59 L551.07 182.59 L551.87 182.59 L552.68 182.59 L553.48 182.59 L554.29 182.59 L555.09 182.59 L555.90 182.59" stroke="#f5a672" stroke-width="2.1" fill="none" stroke-linejoin="round"/>
<path d="M395.70 197.02 L396.51 197.18 L397.31 197.34 L398.12 197.52 L398.92 197.70 L399.73 197.89 L400.53 198.09 L401.34 198.31 L402.14 198.53 L402.95 198.77 L403.75 199.02 L404.56 199.29 L405.36 199.57 L406.17 199.86 L406.97 200.17 L407.78 200.50 L408.58 200.84 L409.39 201.20 L410.19 201.59 L411.00 201.99 L411.80 202.41 L412.61 202.85 L413.41 203.31 L414.22 203.80 L415.02 204.31 L415.83 204.85 L416.63 205.41 L417.44 206.00 L418.24 206.61 L419.05 207.25 L419.85 207.91 L420.66 208.60 L421.46 209.32 L422.27 210.06 L423.07 210.82 L423.88 211.60 L424.68 212.41 L425.49 213.22 L426.29 214.05 L427.10 214.89 L427.90 215.74 L428.71 216.58 L429.51 217.42 L430.32 218.25 L431.12 219.07 L431.93 219.86 L432.73 220.63 L433.54 221.37 L434.34 222.08 L435.15 222.75 L435.95 223.38 L436.76 223.97 L437.56 224.51 L438.37 225.02 L439.17 225.48 L439.98 225.90 L440.78 226.28 L441.59 226.63 L442.39 226.94 L443.20 227.21 L444.00 227.46 L444.81 227.68 L445.61 227.87 L446.42 228.04 L447.22 228.19 L448.03 228.32 L448.83 228.44 L449.64 228.54 L450.44 228.63 L451.25 228.70 L452.05 228.77 L452.86 228.83 L453.66 228.88 L454.47 228.92 L455.27 228.96 L456.08 229.00 L456.88 229.03 L457.69 229.05 L458.49 229.07 L459.30 229.09 L460.10 229.11 L460.91 229.12 L461.71 229.13 L462.52 229.14 L463.32 229.15 L464.13 229.16 L464.93 229.17 L465.74 229.17 L466.54 229.18 L467.35 229.18 L468.15 229.19 L468.96 229.19 L469.76 229.19 L470.57 229.20 L471.37 229.20 L472.18 229.20 L472.98 229.20 L473.79 229.20 L474.59 229.20 L475.40 229.21 L476.20 229.21 L477.01 229.21 L477.81 229.21 L478.62 229.21 L479.42 229.21 L480.23 229.21 L481.03 229.21 L481.84 229.21 L482.64 229.21 L483.45 229.21 L484.25 229.21 L485.06 229.21 L485.86 229.21 L486.67 229.21 L487.47 229.21 L488.28 229.21 L489.08 229.21 L489.89 229.21 L490.69 229.21 L491.50 229.21 L492.30 229.21 L493.11 229.21 L493.91 229.21 L494.72 229.21 L495.52 229.21 L496.33 229.21 L497.13 229.21 L497.94 229.21 L498.74 229.21 L499.55 229.21 L500.35 229.21 L501.16 229.21 L501.96 229.21 L502.77 229.21 L503.57 229.21 L504.38 229.21 L505.18 229.21 L505.99 229.21 L506.79 229.21 L507.60 229.21 L508.40 229.21 L509.21 229.21 L510.01 229.21 L510.82 229.21 L511.62 229.21 L512.43 229.21 L513.23 229.21 L514.04 229.21 L514.84 229.21 L515.65 229.21 L516.45 229.21 L517.26 229.21 L518.06 229.21 L518.87 229.21 L519.67 229.21 L520.48 229.21 L521.28 229.21 L522.09 229.21 L522.89 229.21 L523.70 229.21 L524.50 229.21 L525.31 229.21 L526.11 229.21 L526.92 229.21 L527.72 229.21 L528.53 229.21 L529.33 229.21 L530.14 229.21 L530.94 229.21 L531.75 229.21 L532.55 229.21 L533.36 229.21 L534.16 229.21 L534.97 229.21 L535.77 229.21 L536.58 229.21 L537.38 229.21 L538.19 229.21 L538.99 229.21 L539.80 229.21 L540.60 229.21 L541.41 229.21 L542.21 229.21 L543.02 229.21 L543.82 229.21 L544.63 229.21 L545.43 229.21 L546.24 229.21 L547.04 229.21 L547.85 229.21 L548.65 229.21 L549.46 229.21 L550.26 229.21 L551.07 229.21 L551.87 229.21 L552.68 229.21 L553.48 229.21 L554.29 229.21 L555.09 229.21 L555.90 229.21" stroke="#ed7461" stroke-width="2.1" fill="none" stroke-linejoin="round"/>
<path d="M395.70 228.90 L396.51 229.01 L397.31 229.12 L398.12 229.24 L398.92 229.36 L399.73 229.49 L400.53 229.61 L401.34 229.75 L402.14 229.89 L402.95 230.03 L403.75 230.18 L404.56 230.33 L405.36 230.49 L406.17 230.65 L406.97 230.82 L407.78 231.00 L408.58 231.18 L409.39 231.37 L410.19 231.56 L411.00 231.76 L411.80 231.97 L412.61 232.19 L413.41 232.41 L414.22 232.64 L415.02 232.88 L415.83 233.12 L416.63 233.38 L417.44 233.64 L418.24 233.91 L419.05 234.19 L419.85 234.48 L420.66 234.78 L421.46 235.08 L422.27 235.40 L423.07 235.73 L423.88 236.07 L424.68 236.42 L425.49 236.78 L426.29 237.15 L427.10 237.53 L427.90 237.92 L428.71 238.32 L429.51 238.73 L430.32 239.16 L431.12 239.59 L431.93 240.03 L432.73 240.49 L433.54 240.95 L434.34 241.41 L435.15 241.89 L435.95 242.37 L436.76 242.86 L437.56 243.35 L438.37 243.84 L439.17 244.33 L439.98 244.82 L440.78 245.30 L441.59 245.78 L442.39 246.25 L443.20 246.71 L444.00 247.16 L444.81 247.59 L445.61 248.01 L446.42 248.41 L447.22 248.79 L448.03 249.16 L448.83 249.50 L449.64 249.81 L450.44 250.11 L451.25 250.39 L452.05 250.64 L452.86 250.87 L453.66 251.09 L454.47 251.28 L455.27 251.45 L456.08 251.61 L456.88 251.76 L457.69 251.88 L458.49 252.00 L459.30 252.10 L460.10 252.19 L460.91 252.27 L461.71 252.34 L462.52 252.41 L463.32 252.46 L464.13 252.51 L464.93 252.56 L465.74 252.60 L466.54 252.63 L467.35 252.66 L468.15 252.69 L468.96 252.71 L469.76 252.73 L470.57 252.75 L471.37 252.76 L472.18 252.78 L472.98 252.79 L473.79 252.80 L474.59 252.81 L475.40 252.82 L476.20 252.82 L477.01 252.83 L477.81 252.83 L478.62 252.84 L479.42 252.84 L480.23 252.85 L481.03 252.85 L481.84 252.85 L482.64 252.85 L483.45 252.86 L484.25 252.86 L485.06 252.86 L485.86 252.86 L486.67 252.86 L487.47 252.86 L488.28 252.87 L489.08 252.87 L489.89 252.87 L490.69 252.87 L491.50 252.87 L492.30 252.87 L493.11 252.87 L493.91 252.87 L494.72 252.87 L495.52 252.87 L496.33 252.87 L497.13 252.87 L497.94 252.87 L498.74 252.87 L499.55 252.87 L500.35 252.87 L501.16 252.87 L501.96 252.87 L502.77 252.87 L503.57 252.87 L504.38 252.87 L505.18 252.87 L505.99 252.87 L506.79 252.87 L507.60 252.87 L508.40 252.87 L509.21 252.87 L510.01 252.87 L510.82 252.87 L511.62 252.87 L512.43 252.87 L513.23 252.87 L514.04 252.87 L514.84 252.87 L515.65 252.87 L516.45 252.87 L517.26 252.87 L518.06 252.87 L518.87 252.87 L519.67 252.87 L520.48 252.87 L521.28 252.87 L522.09 252.87 L522.89 252.87 L523.70 252.87 L524.50 252.87 L525.31 252.87 L526.11 252.87 L526.92 252.87 L527.72 252.87 L528.53 252.87 L529.33 252.87 L530.14 252.87 L530.94 252.87 L531.75 252.87 L532.55 252.87 L533.36 252.87 L534.16 252.87 L534.97 252.87 L535.77 252.87 L536.58 252.87 L537.38 252.87 L538.19 252.87 L538.99 252.87 L539.80 252.87 L540.60 252.87 L541.41 252.87 L542.21 252.87 L543.02 252.87 L543.82 252.87 L544.63 252.87 L545.43 252.87 L546.24 252.87 L547.04 252.87 L547.85 252.87 L548.65 252.87 L549.46 252.87 L550.26 252.87 L551.07 252.87 L551.87 252.87 L552.68 252.87 L553.48 252.87 L554.29 252.87 L555.09 252.87 L555.90 252.87" stroke="#d03b48" stroke-width="2.1" fill="none" stroke-linejoin="round"/>
<path d="M395.70 247.68 L396.51 247.71 L397.31 247.73 L398.12 247.76 L398.92 247.78 L399.73 247.81 L400.53 247.84 L401.34 247.86 L402.14 247.89 L402.95 247.92 L403.75 247.96 L404.56 247.99 L405.36 248.02 L406.17 248.05 L406.97 248.09 L407.78 248.13 L408.58 248.16 L409.39 248.20 L410.19 248.24 L411.00 248.28 L411.80 248.33 L412.61 248.37 L413.41 248.42 L414.22 248.46 L415.02 248.51 L415.83 248.56 L416.63 248.61 L417.44 248.66 L418.24 248.72 L419.05 248.78 L419.85 248.83 L420.66 248.89 L421.46 248.96 L422.27 249.02 L423.07 249.08 L423.88 249.15 L424.68 249.22 L425.49 249.30 L426.29 249.37 L427.10 249.45 L427.90 249.53 L428.71 249.61 L429.51 249.69 L430.32 249.78 L431.12 249.87 L431.93 249.96 L432.73 250.06 L433.54 250.16 L434.34 250.26 L435.15 250.36 L435.95 250.47 L436.76 250.58 L437.56 250.70 L438.37 250.82 L439.17 250.94 L439.98 251.06 L440.78 251.19 L441.59 251.32 L442.39 251.46 L443.20 251.60 L444.00 251.74 L444.81 251.89 L445.61 252.04 L446.42 252.19 L447.22 252.35 L448.03 252.51 L448.83 252.67 L449.64 252.83 L450.44 252.99 L451.25 253.16 L452.05 253.32 L452.86 253.48 L453.66 253.64 L454.47 253.80 L455.27 253.95 L456.08 254.10 L456.88 254.23 L457.69 254.37 L458.49 254.49 L459.30 254.60 L460.10 254.71 L460.91 254.80 L461.71 254.89 L462.52 254.96 L463.32 255.03 L464.13 255.09 L464.93 255.14 L465.74 255.19 L466.54 255.23 L467.35 255.26 L468.15 255.29 L468.96 255.31 L469.76 255.33 L470.57 255.35 L471.37 255.36 L472.18 255.37 L472.98 255.38 L473.79 255.39 L474.59 255.40 L475.40 255.41 L476.20 255.41 L477.01 255.42 L477.81 255.42 L478.62 255.42 L479.42 255.42 L480.23 255.43 L481.03 255.43 L481.84 255.43 L482.64 255.43 L483.45 255.43 L484.25 255.43 L485.06 255.43 L485.86 255.43 L486.67 255.43 L487.47 255.43 L488.28 255.43 L489.08 255.43 L489.89 255.43 L490.69 255.43 L491.50 255.44 L492.30 255.44 L493.11 255.44 L493.91 255.44 L494.72 255.44 L495.52 255.44 L496.33 255.44 L497.13 255.44 L497.94 255.44 L498.74 255.44 L499.55 255.44 L500.35 255.44 L501.16 255.44 L501.96 255.44 L502.77 255.44 L503.57 255.44 L504.38 255.44 L505.18 255.44 L505.99 255.44 L506.79 255.44 L507.60 255.44 L508.40 255.44 L509.21 255.44 L510.01 255.44 L510.82 255.44 L511.62 255.44 L512.43 255.44 L513.23 255.44 L514.04 255.44 L514.84 255.44 L515.65 255.44 L516.45 255.44 L517.26 255.44 L518.06 255.44 L518.87 255.44 L519.67 255.44 L520.48 255.44 L521.28 255.44 L522.09 255.44 L522.89 255.44 L523.70 255.44 L524.50 255.44 L525.31 255.44 L526.11 255.44 L526.92 255.44 L527.72 255.44 L528.53 255.44 L529.33 255.44 L530.14 255.44 L530.94 255.44 L531.75 255.44 L532.55 255.44 L533.36 255.44 L534.16 255.44 L534.97 255.44 L535.77 255.44 L536.58 255.44 L537.38 255.44 L538.19 255.44 L538.99 255.44 L539.80 255.44 L540.60 255.44 L541.41 255.44 L542.21 255.44 L543.02 255.44 L543.82 255.44 L544.63 255.44 L545.43 255.44 L546.24 255.44 L547.04 255.44 L547.85 255.44 L548.65 255.44 L549.46 255.44 L550.26 255.44 L551.07 255.44 L551.87 255.44 L552.68 255.44 L553.48 255.44 L554.29 255.44 L555.09 255.44 L555.90 255.44" stroke="#a5193a" stroke-width="2.1" fill="none" stroke-linejoin="round"/>
<path d="M396.00 164.80 L396.50 165.33 L397.01 165.85 L397.52 166.37 L398.03 166.88 L398.55 167.39 L399.07 167.90 L399.58 168.41 L400.10 168.91 L400.62 169.42 L401.13 169.93 L401.64 170.45 L402.15 170.97 L402.66 171.50 L403.15 172.03 L403.65 172.58 L404.13 173.14 L404.61 173.71 L405.09 174.29 L405.55 174.89 L406.00 175.50 L406.44 176.13 L406.88 176.79 L407.31 177.46 L407.74 178.14 L408.16 178.84 L408.57 179.55 L408.98 180.27 L409.39 181.00 L409.79 181.74 L410.18 182.48 L410.57 183.22 L410.96 183.97 L411.34 184.71 L411.71 185.45 L412.09 186.18 L412.46 186.91 L412.82 187.62 L413.18 188.33 L413.54 189.02 L413.90 189.70 L414.25 190.37 L414.60 191.03 L414.95 191.69 L415.29 192.35 L415.62 193.00 L415.95 193.64 L416.28 194.29 L416.61 194.93 L416.93 195.56 L417.24 196.19 L417.56 196.82 L417.86 197.44 L418.17 198.06 L418.47 198.68 L418.77 199.29 L419.06 199.90 L419.35 200.51 L419.64 201.11 L419.92 201.71 L420.20 202.30 L420.48 202.89 L420.75 203.47 L421.02 204.05 L421.28 204.62 L421.55 205.18 L421.80 205.74 L422.06 206.30 L422.31 206.85 L422.56 207.40 L422.80 207.95 L423.04 208.50 L423.27 209.04 L423.51 209.58 L423.73 210.12 L423.95 210.67 L424.17 211.21 L424.39 211.75 L424.60 212.30 L424.80 212.85 L425.00 213.40 L425.19 213.95 L425.38 214.49 L425.56 215.02 L425.73 215.56 L425.89 216.08 L426.05 216.61 L426.21 217.13 L426.36 217.65 L426.51 218.18 L426.65 218.71 L426.79 219.24 L426.93 219.77 L427.08 220.32 L427.22 220.87 L427.36 221.43 L427.50 222.00 L427.65 222.58 L427.79 223.17 L427.94 223.78 L428.10 224.40 L428.26 225.04 L428.41 225.71 L428.56 226.40 L428.71 227.11 L428.86 227.84 L429.01 228.57 L429.15 229.32 L429.30 230.08 L429.45 230.83 L429.60 231.59 L429.75 232.35 L429.91 233.10 L430.07 233.85 L430.23 234.58 L430.39 235.31 L430.56 236.01 L430.74 236.69 L430.92 237.36 L431.11 237.99 L431.30 238.60 L431.50 239.19 L431.71 239.77 L431.92 240.34 L432.14 240.90 L432.36 241.45 L432.59 241.99 L432.83 242.52 L433.06 243.03 L433.30 243.53 L433.54 244.02 L433.79 244.50 L434.03 244.96 L434.28 245.41 L434.53 245.85 L434.78 246.26 L435.02 246.67 L435.27 247.05 L435.52 247.42 L435.76 247.77 L436.00 248.10 L436.24 248.41 L436.48 248.69 L436.72 248.94 L436.97 249.17 L437.21 249.38 L437.46 249.57 L437.70 249.74 L437.95 249.90 L438.19 250.05 L438.44 250.18 L438.68 250.31 L438.93 250.43 L439.18 250.55 L439.42 250.67 L439.67 250.79 L439.92 250.92 L440.16 251.05 L440.41 251.19 L440.65 251.34 L440.90 251.50" stroke="#000" stroke-width="2.35" fill="none" stroke-linecap="round" stroke-dasharray="0.01 2.75"/>
<rect x="395.70" y="154.20" width="160.20" height="103.00" fill="none" stroke="#858585" stroke-width="1.5"/>
<path d="M395.70 205.70 h1.8 M555.90 205.70 h-1.8 M475.80 257.20 v-1.8 M475.80 154.20 v1.8" stroke="#777" stroke-width="1"/>
<text x="384.76" y="262.15" font-size="14.00" font-weight="normal" fill="#000">0</text>
<text x="373.13" y="210.65" font-size="14.00" font-weight="normal" fill="#000">0.5</text>
<text x="384.00" y="159.00" font-size="14.00" font-weight="normal" fill="#000">1</text>
<text x="383.75" y="276.90" font-size="14.00">10</text>
<text x="399.02" y="268.80" font-size="9.00">-1</text>
<text x="465.35" y="276.90" font-size="14.00">10</text>
<text x="480.62" y="268.80" font-size="9.00">1</text>
<text x="545.43" y="276.90" font-size="14.00">10</text>
<text x="560.70" y="268.80" font-size="9.00">3</text>
<text x="448.74" y="292.50" font-size="13.80">[S</text>
<text x="461.78" y="299.20" font-size="10.30">T</text>
<text x="468.07" y="292.50" font-size="13.80">] [µM]</text>
<text transform="translate(365.74 205.70) rotate(-90)" x="-24.29" y="0" font-size="13.80">[R] [µM]</text>
<text x="425.61" y="204.20" font-size="13.30" font-weight="normal" fill="#111">EC</text>
<text x="444.38" y="207.80" font-size="9.2" fill="#222" style="stroke:none">50</text>
<path d="M147.00 337.30 L147.80 337.30 L148.61 337.30 L149.41 337.30 L150.22 337.30 L151.02 337.30 L151.82 337.30 L152.63 337.29 L153.43 337.29 L154.24 337.29 L155.04 337.29 L155.84 337.29 L156.65 337.28 L157.45 337.28 L158.26 337.28 L159.06 337.28 L159.86 337.27 L160.67 337.27 L161.47 337.27 L162.28 337.26 L163.08 337.26 L163.88 337.25 L164.69 337.25 L165.49 337.25 L166.30 337.24 L167.10 337.24 L167.90 337.23 L168.71 337.23 L169.51 337.22 L170.32 337.22 L171.12 337.21 L171.92 337.21 L172.73 337.20 L173.53 337.20 L174.34 337.19 L175.14 337.19 L175.94 337.18 L176.75 337.18 L177.55 337.17 L178.36 337.16 L179.16 337.16 L179.96 337.15 L180.77 337.15 L181.57 337.14 L182.38 337.13 L183.18 337.13 L183.98 337.12 L184.79 337.12 L185.59 337.11 L186.40 337.10 L187.20 337.10 L188.01 337.09 L188.81 337.08 L189.61 337.08 L190.42 337.07 L191.22 337.06 L192.03 337.05 L192.83 337.04 L193.63 337.03 L194.44 337.02 L195.24 337.01 L196.05 337.00 L196.85 336.98 L197.65 336.97 L198.46 336.96 L199.26 336.95 L200.07 336.93 L200.87 336.92 L201.67 336.90 L202.48 336.89 L203.28 336.88 L204.09 336.86 L204.89 336.85 L205.69 336.83 L206.50 336.82 L207.30 336.80 L208.11 336.79 L208.91 336.77 L209.71 336.76 L210.52 336.74 L211.32 336.73 L212.13 336.72 L212.93 336.70 L213.73 336.69 L214.54 336.67 L215.34 336.66 L216.15 336.65 L216.95 336.63 L217.75 336.62 L218.56 336.61 L219.36 336.59 L220.17 336.58 L220.97 336.57 L221.77 336.56 L222.58 336.55 L223.38 336.54 L224.19 336.53 L224.99 336.52 L225.79 336.51 L226.60 336.50 L227.40 336.50 L228.21 336.49 L229.01 336.48 L229.81 336.47 L230.62 336.47 L231.42 336.46 L232.23 336.45 L233.03 336.44 L233.83 336.44 L234.64 336.43 L235.44 336.42 L236.25 336.42 L237.05 336.41 L237.85 336.40 L238.66 336.39 L239.46 336.39 L240.27 336.38 L241.07 336.37 L241.87 336.36 L242.68 336.36 L243.48 336.35 L244.29 336.34 L245.09 336.34 L245.89 336.33 L246.70 336.32 L247.50 336.32 L248.31 336.31 L249.11 336.30 L249.91 336.29 L250.72 336.29 L251.52 336.28 L252.33 336.27 L253.13 336.27 L253.93 336.26 L254.74 336.25 L255.54 336.25 L256.35 336.24 L257.15 336.24 L257.95 336.23 L258.76 336.22 L259.56 336.22 L260.37 336.21 L261.17 336.20 L261.97 336.20 L262.78 336.19 L263.58 336.19 L264.39 336.18 L265.19 336.17 L265.99 336.17 L266.80 336.16 L267.60 336.16 L268.41 336.15 L269.21 336.15 L270.02 336.14 L270.82 336.14 L271.62 336.13 L272.43 336.13 L273.23 336.12 L274.04 336.12 L274.84 336.11 L275.64 336.11 L276.45 336.10 L277.25 336.10 L278.06 336.09 L278.86 336.09 L279.66 336.08 L280.47 336.08 L281.27 336.07 L282.08 336.07 L282.88 336.07 L283.68 336.06 L284.49 336.06 L285.29 336.06 L286.10 336.05 L286.90 336.05 L287.70 336.05 L288.51 336.04 L289.31 336.04 L290.12 336.04 L290.92 336.03 L291.72 336.03 L292.53 336.03 L293.33 336.02 L294.14 336.02 L294.94 336.02 L295.74 336.02 L296.55 336.02 L297.35 336.01 L298.16 336.01 L298.96 336.01 L299.76 336.01 L300.57 336.01 L301.37 336.01 L302.18 336.00 L302.98 336.00 L303.78 336.00 L304.59 336.00 L305.39 336.00 L306.20 336.00 L307.00 336.00" stroke="#ebefdc" stroke-width="2.1" fill="none" stroke-linejoin="round"/>
<path d="M147.00 347.64 L147.80 347.63 L148.61 347.61 L149.41 347.60 L150.22 347.58 L151.02 347.56 L151.83 347.54 L152.63 347.52 L153.44 347.49 L154.24 347.47 L155.05 347.44 L155.85 347.40 L156.65 347.37 L157.46 347.33 L158.26 347.29 L159.07 347.25 L159.87 347.21 L160.68 347.16 L161.48 347.11 L162.29 347.05 L163.09 346.99 L163.89 346.93 L164.70 346.86 L165.50 346.79 L166.31 346.72 L167.11 346.64 L167.92 346.55 L168.72 346.47 L169.53 346.38 L170.33 346.28 L171.14 346.18 L171.94 346.08 L172.74 345.97 L173.55 345.85 L174.35 345.74 L175.16 345.62 L175.96 345.49 L176.77 345.36 L177.57 345.23 L178.38 345.09 L179.18 344.95 L179.99 344.81 L180.79 344.66 L181.59 344.51 L182.40 344.36 L183.20 344.21 L184.01 344.05 L184.81 343.90 L185.62 343.74 L186.42 343.58 L187.23 343.41 L188.03 343.25 L188.84 343.09 L189.64 342.92 L190.44 342.76 L191.25 342.60 L192.05 342.43 L192.86 342.27 L193.66 342.11 L194.47 341.95 L195.27 341.79 L196.08 341.64 L196.88 341.48 L197.68 341.33 L198.49 341.17 L199.29 341.03 L200.10 340.88 L200.90 340.73 L201.71 340.59 L202.51 340.45 L203.32 340.32 L204.12 340.18 L204.93 340.05 L205.73 339.93 L206.53 339.80 L207.34 339.68 L208.14 339.56 L208.95 339.45 L209.75 339.33 L210.56 339.23 L211.36 339.12 L212.17 339.02 L212.97 338.92 L213.78 338.82 L214.58 338.73 L215.38 338.64 L216.19 338.55 L216.99 338.46 L217.80 338.38 L218.60 338.30 L219.41 338.23 L220.21 338.15 L221.02 338.08 L221.82 338.01 L222.63 337.95 L223.43 337.88 L224.23 337.82 L225.04 337.76 L225.84 337.71 L226.65 337.65 L227.45 337.60 L228.26 337.55 L229.06 337.50 L229.87 337.45 L230.67 337.41 L231.47 337.36 L232.28 337.32 L233.08 337.28 L233.89 337.24 L234.69 337.21 L235.50 337.17 L236.30 337.14 L237.11 337.11 L237.91 337.08 L238.72 337.05 L239.52 337.02 L240.32 336.99 L241.13 336.96 L241.93 336.94 L242.74 336.92 L243.54 336.89 L244.35 336.87 L245.15 336.85 L245.96 336.83 L246.76 336.81 L247.57 336.79 L248.37 336.77 L249.17 336.76 L249.98 336.74 L250.78 336.72 L251.59 336.71 L252.39 336.70 L253.20 336.68 L254.00 336.67 L254.81 336.66 L255.61 336.65 L256.42 336.63 L257.22 336.62 L258.02 336.61 L258.83 336.60 L259.63 336.59 L260.44 336.58 L261.24 336.58 L262.05 336.57 L262.85 336.56 L263.66 336.55 L264.46 336.54 L265.26 336.54 L266.07 336.53 L266.87 336.53 L267.68 336.52 L268.48 336.51 L269.29 336.51 L270.09 336.50 L270.90 336.50 L271.70 336.49 L272.51 336.49 L273.31 336.48 L274.11 336.48 L274.92 336.48 L275.72 336.47 L276.53 336.47 L277.33 336.46 L278.14 336.46 L278.94 336.46 L279.75 336.46 L280.55 336.45 L281.36 336.45 L282.16 336.45 L282.96 336.44 L283.77 336.44 L284.57 336.44 L285.38 336.44 L286.18 336.44 L286.99 336.43 L287.79 336.43 L288.60 336.43 L289.40 336.43 L290.21 336.43 L291.01 336.42 L291.81 336.42 L292.62 336.42 L293.42 336.42 L294.23 336.42 L295.03 336.42 L295.84 336.42 L296.64 336.42 L297.45 336.41 L298.25 336.41 L299.05 336.41 L299.86 336.41 L300.66 336.41 L301.47 336.41 L302.27 336.41 L303.08 336.41 L303.88 336.41 L304.69 336.41 L305.49 336.41 L306.30 336.41 L307.10 336.40" stroke="#9dd5ee" stroke-width="2.1" fill="none" stroke-linejoin="round"/>
<path d="M147.00 371.24 L147.80 371.23 L148.61 371.21 L149.41 371.20 L150.22 371.18 L151.02 371.17 L151.83 371.15 L152.63 371.13 L153.44 371.10 L154.24 371.08 L155.05 371.05 L155.85 371.02 L156.65 370.98 L157.46 370.95 L158.26 370.90 L159.07 370.86 L159.87 370.81 L160.68 370.75 L161.48 370.69 L162.29 370.62 L163.09 370.55 L163.89 370.47 L164.70 370.38 L165.50 370.28 L166.31 370.18 L167.11 370.07 L167.92 369.95 L168.72 369.82 L169.53 369.67 L170.33 369.52 L171.14 369.36 L171.94 369.18 L172.74 368.99 L173.55 368.79 L174.35 368.57 L175.16 368.34 L175.96 368.10 L176.77 367.84 L177.57 367.57 L178.38 367.28 L179.18 366.98 L179.99 366.67 L180.79 366.33 L181.59 365.99 L182.40 365.63 L183.20 365.25 L184.01 364.86 L184.81 364.46 L185.62 364.04 L186.42 363.62 L187.23 363.18 L188.03 362.73 L188.84 362.27 L189.64 361.81 L190.44 361.33 L191.25 360.85 L192.05 360.37 L192.86 359.88 L193.66 359.39 L194.47 358.89 L195.27 358.39 L196.08 357.90 L196.88 357.40 L197.68 356.91 L198.49 356.42 L199.29 355.94 L200.10 355.46 L200.90 354.98 L201.71 354.51 L202.51 354.05 L203.32 353.60 L204.12 353.16 L204.93 352.73 L205.73 352.30 L206.53 351.89 L207.34 351.48 L208.14 351.09 L208.95 350.71 L209.75 350.34 L210.56 349.98 L211.36 349.64 L212.17 349.30 L212.97 348.98 L213.78 348.66 L214.58 348.36 L215.38 348.07 L216.19 347.79 L216.99 347.52 L217.80 347.27 L218.60 347.02 L219.41 346.78 L220.21 346.55 L221.02 346.34 L221.82 346.13 L222.63 345.93 L223.43 345.74 L224.23 345.56 L225.04 345.39 L225.84 345.22 L226.65 345.06 L227.45 344.91 L228.26 344.77 L229.06 344.63 L229.87 344.50 L230.67 344.38 L231.47 344.26 L232.28 344.15 L233.08 344.05 L233.89 343.95 L234.69 343.85 L235.50 343.76 L236.30 343.67 L237.11 343.59 L237.91 343.51 L238.72 343.44 L239.52 343.37 L240.32 343.31 L241.13 343.24 L241.93 343.18 L242.74 343.13 L243.54 343.07 L244.35 343.02 L245.15 342.98 L245.96 342.93 L246.76 342.89 L247.57 342.85 L248.37 342.81 L249.17 342.77 L249.98 342.74 L250.78 342.71 L251.59 342.67 L252.39 342.65 L253.20 342.62 L254.00 342.59 L254.81 342.57 L255.61 342.54 L256.42 342.52 L257.22 342.50 L258.02 342.48 L258.83 342.46 L259.63 342.44 L260.44 342.43 L261.24 342.41 L262.05 342.40 L262.85 342.38 L263.66 342.37 L264.46 342.36 L265.26 342.35 L266.07 342.33 L266.87 342.32 L267.68 342.31 L268.48 342.30 L269.29 342.29 L270.09 342.29 L270.90 342.28 L271.70 342.27 L272.51 342.26 L273.31 342.26 L274.11 342.25 L274.92 342.24 L275.72 342.24 L276.53 342.23 L277.33 342.23 L278.14 342.22 L278.94 342.22 L279.75 342.21 L280.55 342.21 L281.36 342.21 L282.16 342.20 L282.96 342.20 L283.77 342.20 L284.57 342.19 L285.38 342.19 L286.18 342.19 L286.99 342.18 L287.79 342.18 L288.60 342.18 L289.40 342.18 L290.21 342.18 L291.01 342.17 L291.81 342.17 L292.62 342.17 L293.42 342.17 L294.23 342.17 L295.03 342.17 L295.84 342.16 L296.64 342.16 L297.45 342.16 L298.25 342.16 L299.05 342.16 L299.86 342.16 L300.66 342.16 L301.47 342.16 L302.27 342.16 L303.08 342.15 L303.88 342.15 L304.69 342.15 L305.49 342.15 L306.30 342.15 L307.10 342.15" stroke="#38b6e7" stroke-width="2.1" fill="none" stroke-linejoin="round"/>
<path d="M147.00 405.99 L147.80 405.96 L148.61 405.93 L149.41 405.91 L150.22 405.88 L151.02 405.85 L151.83 405.81 L152.63 405.78 L153.44 405.74 L154.24 405.71 L155.05 405.67 L155.85 405.63 L156.65 405.58 L157.46 405.54 L158.26 405.49 L159.07 405.44 L159.87 405.39 L160.68 405.34 L161.48 405.28 L162.29 405.22 L163.09 405.16 L163.89 405.09 L164.70 405.02 L165.50 404.95 L166.31 404.88 L167.11 404.80 L167.92 404.72 L168.72 404.63 L169.53 404.54 L170.33 404.44 L171.14 404.35 L171.94 404.24 L172.74 404.13 L173.55 404.02 L174.35 403.90 L175.16 403.78 L175.96 403.64 L176.77 403.51 L177.57 403.36 L178.38 403.22 L179.18 403.06 L179.99 402.89 L180.79 402.72 L181.59 402.54 L182.40 402.36 L183.20 402.16 L184.01 401.95 L184.81 401.74 L185.62 401.52 L186.42 401.28 L187.23 401.04 L188.03 400.78 L188.84 400.52 L189.64 400.24 L190.44 399.95 L191.25 399.64 L192.05 399.33 L192.86 399.00 L193.66 398.65 L194.47 398.30 L195.27 397.92 L196.08 397.54 L196.88 397.13 L197.68 396.72 L198.49 396.28 L199.29 395.83 L200.10 395.36 L200.90 394.88 L201.71 394.37 L202.51 393.85 L203.32 393.31 L204.12 392.76 L204.93 392.19 L205.73 391.59 L206.53 390.98 L207.34 390.36 L208.14 389.71 L208.95 389.05 L209.75 388.38 L210.56 387.68 L211.36 386.98 L212.17 386.25 L212.97 385.52 L213.78 384.77 L214.58 384.01 L215.38 383.25 L216.19 382.47 L216.99 381.68 L217.80 380.89 L218.60 380.10 L219.41 379.31 L220.21 378.51 L221.02 377.71 L221.82 376.92 L222.63 376.13 L223.43 375.35 L224.23 374.58 L225.04 373.82 L225.84 373.06 L226.65 372.33 L227.45 371.60 L228.26 370.89 L229.06 370.20 L229.87 369.53 L230.67 368.87 L231.47 368.24 L232.28 367.63 L233.08 367.04 L233.89 366.47 L234.69 365.92 L235.50 365.39 L236.30 364.89 L237.11 364.40 L237.91 363.94 L238.72 363.51 L239.52 363.09 L240.32 362.69 L241.13 362.32 L241.93 361.96 L242.74 361.62 L243.54 361.30 L244.35 361.00 L245.15 360.72 L245.96 360.45 L246.76 360.20 L247.57 359.97 L248.37 359.75 L249.17 359.54 L249.98 359.34 L250.78 359.16 L251.59 358.99 L252.39 358.83 L253.20 358.68 L254.00 358.54 L254.81 358.41 L255.61 358.29 L256.42 358.18 L257.22 358.07 L258.02 357.97 L258.83 357.88 L259.63 357.79 L260.44 357.72 L261.24 357.64 L262.05 357.57 L262.85 357.51 L263.66 357.45 L264.46 357.39 L265.26 357.34 L266.07 357.29 L266.87 357.25 L267.68 357.21 L268.48 357.17 L269.29 357.13 L270.09 357.10 L270.90 357.07 L271.70 357.04 L272.51 357.01 L273.31 356.99 L274.11 356.97 L274.92 356.94 L275.72 356.92 L276.53 356.91 L277.33 356.89 L278.14 356.87 L278.94 356.86 L279.75 356.85 L280.55 356.83 L281.36 356.82 L282.16 356.81 L282.96 356.80 L283.77 356.79 L284.57 356.78 L285.38 356.77 L286.18 356.77 L286.99 356.76 L287.79 356.75 L288.60 356.75 L289.40 356.74 L290.21 356.74 L291.01 356.73 L291.81 356.73 L292.62 356.72 L293.42 356.72 L294.23 356.72 L295.03 356.71 L295.84 356.71 L296.64 356.71 L297.45 356.71 L298.25 356.70 L299.05 356.70 L299.86 356.70 L300.66 356.70 L301.47 356.70 L302.27 356.69 L303.08 356.69 L303.88 356.69 L304.69 356.69 L305.49 356.69 L306.30 356.69 L307.10 356.69" stroke="#159bdb" stroke-width="2.1" fill="none" stroke-linejoin="round"/>
<path d="M147.00 425.06 L147.80 425.06 L148.61 425.06 L149.41 425.06 L150.22 425.06 L151.02 425.06 L151.83 425.06 L152.63 425.06 L153.44 425.06 L154.24 425.06 L155.05 425.06 L155.85 425.06 L156.65 425.06 L157.46 425.06 L158.26 425.06 L159.07 425.06 L159.87 425.06 L160.68 425.06 L161.48 425.06 L162.29 425.06 L163.09 425.06 L163.89 425.06 L164.70 425.06 L165.50 425.06 L166.31 425.06 L167.11 425.06 L167.92 425.06 L168.72 425.06 L169.53 425.06 L170.33 425.06 L171.14 425.06 L171.94 425.06 L172.74 425.06 L173.55 425.06 L174.35 425.06 L175.16 425.06 L175.96 425.06 L176.77 425.06 L177.57 425.05 L178.38 425.05 L179.18 425.05 L179.99 425.05 L180.79 425.05 L181.59 425.05 L182.40 425.04 L183.20 425.04 L184.01 425.04 L184.81 425.03 L185.62 425.03 L186.42 425.03 L187.23 425.02 L188.03 425.01 L188.84 425.01 L189.64 425.00 L190.44 424.99 L191.25 424.97 L192.05 424.96 L192.86 424.95 L193.66 424.93 L194.47 424.91 L195.27 424.88 L196.08 424.86 L196.88 424.83 L197.68 424.79 L198.49 424.75 L199.29 424.70 L200.10 424.65 L200.90 424.59 L201.71 424.52 L202.51 424.45 L203.32 424.36 L204.12 424.26 L204.93 424.15 L205.73 424.03 L206.53 423.89 L207.34 423.73 L208.14 423.55 L208.95 423.36 L209.75 423.14 L210.56 422.90 L211.36 422.63 L212.17 422.33 L212.97 422.01 L213.78 421.65 L214.58 421.27 L215.38 420.84 L216.19 420.39 L216.99 419.89 L217.80 419.36 L218.60 418.79 L219.41 418.19 L220.21 417.54 L221.02 416.86 L221.82 416.15 L222.63 415.39 L223.43 414.61 L224.23 413.80 L225.04 412.95 L225.84 412.09 L226.65 411.20 L227.45 410.29 L228.26 409.37 L229.06 408.43 L229.87 407.49 L230.67 406.55 L231.47 405.61 L232.28 404.67 L233.08 403.74 L233.89 402.82 L234.69 401.91 L235.50 401.02 L236.30 400.16 L237.11 399.31 L237.91 398.49 L238.72 397.69 L239.52 396.92 L240.32 396.18 L241.13 395.47 L241.93 394.79 L242.74 394.14 L243.54 393.52 L244.35 392.92 L245.15 392.36 L245.96 391.83 L246.76 391.32 L247.57 390.84 L248.37 390.39 L249.17 389.97 L249.98 389.57 L250.78 389.19 L251.59 388.84 L252.39 388.50 L253.20 388.19 L254.00 387.90 L254.81 387.63 L255.61 387.38 L256.42 387.14 L257.22 386.92 L258.02 386.71 L258.83 386.52 L259.63 386.34 L260.44 386.17 L261.24 386.01 L262.05 385.87 L262.85 385.73 L263.66 385.61 L264.46 385.49 L265.26 385.39 L266.07 385.29 L266.87 385.19 L267.68 385.11 L268.48 385.03 L269.29 384.95 L270.09 384.88 L270.90 384.82 L271.70 384.76 L272.51 384.71 L273.31 384.65 L274.11 384.61 L274.92 384.56 L275.72 384.52 L276.53 384.49 L277.33 384.45 L278.14 384.42 L278.94 384.39 L279.75 384.36 L280.55 384.34 L281.36 384.31 L282.16 384.29 L282.96 384.27 L283.77 384.25 L284.57 384.24 L285.38 384.22 L286.18 384.21 L286.99 384.19 L287.79 384.18 L288.60 384.17 L289.40 384.16 L290.21 384.15 L291.01 384.14 L291.81 384.13 L292.62 384.12 L293.42 384.11 L294.23 384.11 L295.03 384.10 L295.84 384.09 L296.64 384.09 L297.45 384.08 L298.25 384.08 L299.05 384.08 L299.86 384.07 L300.66 384.07 L301.47 384.06 L302.27 384.06 L303.08 384.06 L303.88 384.06 L304.69 384.05 L305.49 384.05 L306.30 384.05 L307.10 384.05" stroke="#0e5fae" stroke-width="2.1" fill="none" stroke-linejoin="round"/>
<path d="M198.30 336.50 L198.47 337.04 L198.64 337.58 L198.81 338.12 L198.98 338.65 L199.15 339.19 L199.32 339.73 L199.49 340.26 L199.66 340.80 L199.83 341.34 L200.00 341.88 L200.17 342.41 L200.34 342.95 L200.51 343.49 L200.68 344.03 L200.85 344.57 L201.02 345.11 L201.19 345.66 L201.36 346.20 L201.53 346.75 L201.70 347.30 L201.87 347.85 L202.03 348.40 L202.20 348.96 L202.36 349.51 L202.52 350.06 L202.68 350.62 L202.84 351.18 L203.00 351.74 L203.16 352.30 L203.32 352.86 L203.48 353.42 L203.65 353.98 L203.81 354.54 L203.98 355.11 L204.16 355.67 L204.34 356.23 L204.52 356.80 L204.71 357.37 L204.90 357.93 L205.10 358.50 L205.30 359.07 L205.51 359.64 L205.72 360.21 L205.93 360.78 L206.15 361.35 L206.37 361.92 L206.59 362.50 L206.81 363.07 L207.04 363.65 L207.27 364.23 L207.51 364.80 L207.75 365.38 L207.99 365.96 L208.24 366.53 L208.49 367.11 L208.74 367.69 L209.00 368.27 L209.26 368.84 L209.53 369.42 L209.80 370.00 L210.08 370.58 L210.36 371.17 L210.65 371.76 L210.95 372.36 L211.25 372.97 L211.56 373.57 L211.88 374.18 L212.19 374.78 L212.51 375.39 L212.83 375.99 L213.15 376.59 L213.48 377.18 L213.80 377.77 L214.12 378.34 L214.44 378.92 L214.76 379.48 L215.08 380.03 L215.39 380.57 L215.70 381.09 L216.00 381.60 L216.30 382.10 L216.60 382.58 L216.90 383.05 L217.20 383.52 L217.49 383.97 L217.79 384.41 L218.08 384.85 L218.38 385.28 L218.67 385.70 L218.96 386.11 L219.25 386.52 L219.54 386.93 L219.83 387.33 L220.12 387.73 L220.40 388.13 L220.68 388.52 L220.97 388.91 L221.25 389.31 L221.52 389.70 L221.80 390.10 L222.07 390.50 L222.35 390.89 L222.61 391.28 L222.88 391.66 L223.15 392.04 L223.41 392.42 L223.67 392.80 L223.93 393.17 L224.19 393.54 L224.45 393.91 L224.71 394.28 L224.96 394.64 L225.22 395.01 L225.47 395.37 L225.73 395.73 L225.98 396.08 L226.24 396.44 L226.49 396.79 L226.75 397.15 L227.00 397.50 L227.25 397.85 L227.51 398.20 L227.76 398.54 L228.01 398.88 L228.26 399.22 L228.51 399.56 L228.76 399.90 L229.01 400.23 L229.26 400.56 L229.51 400.89 L229.76 401.22 L230.01 401.55 L230.26 401.88 L230.51 402.21 L230.75 402.54 L231.00 402.87 L231.25 403.20 L231.50 403.53 L231.75 403.87 L232.00 404.20" stroke="#000" stroke-width="2.35" fill="none" stroke-linecap="round" stroke-dasharray="0.01 2.75"/>
<rect x="147.00" y="333.30" width="160.10" height="102.90" fill="none" stroke="#858585" stroke-width="1.5"/>
<path d="M147.00 384.75 h1.8 M307.10 384.75 h-1.8 M227.05 436.20 v-1.8 M227.05 333.30 v1.8" stroke="#777" stroke-width="1"/>
<text x="136.06" y="441.15" font-size="14.00" font-weight="normal" fill="#000">0</text>
<text x="124.43" y="389.70" font-size="14.00" font-weight="normal" fill="#000">0.5</text>
<text x="135.30" y="338.10" font-size="14.00" font-weight="normal" fill="#000">1</text>
<text x="135.05" y="455.90" font-size="14.00">10</text>
<text x="150.32" y="447.80" font-size="9.00">-1</text>
<text x="216.60" y="455.90" font-size="14.00">10</text>
<text x="231.87" y="447.80" font-size="9.00">1</text>
<text x="296.63" y="455.90" font-size="14.00">10</text>
<text x="311.90" y="447.80" font-size="9.00">3</text>
<text x="199.99" y="471.50" font-size="13.80">[S</text>
<text x="213.03" y="478.20" font-size="10.30">T</text>
<text x="219.32" y="471.50" font-size="13.80">] [µM]</text>
<text transform="translate(117.04 384.75) rotate(-90)" x="-24.29" y="0" font-size="13.80">[R] [µM]</text>
<text x="178.81" y="383.40" font-size="13.30" font-weight="normal" fill="#111">EC</text>
<text x="197.58" y="387.00" font-size="9.2" fill="#222" style="stroke:none">50</text>
<path d="M395.70 339.80 L396.50 339.84 L397.31 339.89 L398.11 339.93 L398.91 339.97 L399.72 340.02 L400.52 340.06 L401.32 340.10 L402.13 340.15 L402.93 340.19 L403.74 340.23 L404.54 340.27 L405.34 340.31 L406.15 340.35 L406.95 340.39 L407.75 340.43 L408.56 340.47 L409.36 340.51 L410.16 340.55 L410.97 340.59 L411.77 340.62 L412.57 340.66 L413.38 340.70 L414.18 340.73 L414.98 340.77 L415.79 340.80 L416.59 340.84 L417.39 340.87 L418.20 340.91 L419.00 340.94 L419.81 340.97 L420.61 341.01 L421.41 341.04 L422.22 341.07 L423.02 341.10 L423.82 341.13 L424.63 341.16 L425.43 341.19 L426.23 341.22 L427.04 341.24 L427.84 341.27 L428.64 341.30 L429.45 341.32 L430.25 341.35 L431.05 341.37 L431.86 341.40 L432.66 341.42 L433.47 341.44 L434.27 341.46 L435.07 341.48 L435.88 341.50 L436.68 341.52 L437.48 341.54 L438.29 341.56 L439.09 341.58 L439.89 341.60 L440.70 341.62 L441.50 341.64 L442.30 341.66 L443.11 341.68 L443.91 341.70 L444.71 341.72 L445.52 341.74 L446.32 341.75 L447.13 341.77 L447.93 341.79 L448.73 341.81 L449.54 341.83 L450.34 341.84 L451.14 341.86 L451.95 341.88 L452.75 341.89 L453.55 341.91 L454.36 341.92 L455.16 341.94 L455.96 341.96 L456.77 341.97 L457.57 341.98 L458.37 342.00 L459.18 342.01 L459.98 342.03 L460.78 342.04 L461.59 342.05 L462.39 342.06 L463.20 342.08 L464.00 342.09 L464.80 342.10 L465.61 342.11 L466.41 342.12 L467.21 342.13 L468.02 342.14 L468.82 342.15 L469.62 342.15 L470.43 342.16 L471.23 342.17 L472.03 342.18 L472.84 342.18 L473.64 342.19 L474.44 342.19 L475.25 342.20 L476.05 342.20 L476.86 342.21 L477.66 342.21 L478.46 342.21 L479.27 342.22 L480.07 342.22 L480.87 342.22 L481.68 342.23 L482.48 342.23 L483.28 342.23 L484.09 342.24 L484.89 342.24 L485.69 342.25 L486.50 342.25 L487.30 342.25 L488.10 342.26 L488.91 342.26 L489.71 342.26 L490.52 342.27 L491.32 342.27 L492.12 342.27 L492.93 342.27 L493.73 342.28 L494.53 342.28 L495.34 342.28 L496.14 342.29 L496.94 342.29 L497.75 342.29 L498.55 342.30 L499.35 342.30 L500.16 342.30 L500.96 342.30 L501.76 342.31 L502.57 342.31 L503.37 342.31 L504.17 342.31 L504.98 342.32 L505.78 342.32 L506.59 342.32 L507.39 342.32 L508.19 342.33 L509.00 342.33 L509.80 342.33 L510.60 342.33 L511.41 342.34 L512.21 342.34 L513.01 342.34 L513.82 342.34 L514.62 342.35 L515.42 342.35 L516.23 342.35 L517.03 342.35 L517.83 342.35 L518.64 342.36 L519.44 342.36 L520.25 342.36 L521.05 342.36 L521.85 342.36 L522.66 342.36 L523.46 342.37 L524.26 342.37 L525.07 342.37 L525.87 342.37 L526.67 342.37 L527.48 342.37 L528.28 342.38 L529.08 342.38 L529.89 342.38 L530.69 342.38 L531.49 342.38 L532.30 342.38 L533.10 342.38 L533.91 342.38 L534.71 342.39 L535.51 342.39 L536.32 342.39 L537.12 342.39 L537.92 342.39 L538.73 342.39 L539.53 342.39 L540.33 342.39 L541.14 342.39 L541.94 342.39 L542.74 342.39 L543.55 342.40 L544.35 342.40 L545.15 342.40 L545.96 342.40 L546.76 342.40 L547.56 342.40 L548.37 342.40 L549.17 342.40 L549.98 342.40 L550.78 342.40 L551.58 342.40 L552.39 342.40 L553.19 342.40 L553.99 342.40 L554.80 342.40 L555.60 342.40" stroke="#f7da9a" stroke-width="2.1" fill="none" stroke-linejoin="round"/>
<path d="M395.70 350.30 L396.51 350.35 L397.31 350.40 L398.12 350.46 L398.92 350.53 L399.73 350.60 L400.53 350.69 L401.34 350.78 L402.14 350.88 L402.95 351.00 L403.75 351.12 L404.56 351.25 L405.36 351.39 L406.17 351.54 L406.97 351.70 L407.78 351.86 L408.58 352.03 L409.39 352.22 L410.19 352.40 L411.00 352.60 L411.80 352.80 L412.61 353.00 L413.41 353.21 L414.22 353.42 L415.02 353.64 L415.83 353.85 L416.63 354.07 L417.44 354.29 L418.24 354.51 L419.05 354.73 L419.85 354.95 L420.66 355.17 L421.46 355.38 L422.27 355.60 L423.07 355.81 L423.88 356.01 L424.68 356.22 L425.49 356.42 L426.29 356.62 L427.10 356.81 L427.90 357.00 L428.71 357.18 L429.51 357.36 L430.32 357.53 L431.12 357.70 L431.93 357.87 L432.73 358.03 L433.54 358.18 L434.34 358.33 L435.15 358.48 L435.95 358.62 L436.76 358.75 L437.56 358.88 L438.37 359.01 L439.17 359.13 L439.98 359.25 L440.78 359.36 L441.59 359.47 L442.39 359.57 L443.20 359.67 L444.00 359.77 L444.81 359.86 L445.61 359.95 L446.42 360.03 L447.22 360.11 L448.03 360.19 L448.83 360.26 L449.64 360.33 L450.44 360.40 L451.25 360.46 L452.05 360.53 L452.86 360.59 L453.66 360.64 L454.47 360.70 L455.27 360.75 L456.08 360.80 L456.88 360.84 L457.69 360.89 L458.49 360.93 L459.30 360.97 L460.10 361.01 L460.91 361.05 L461.71 361.08 L462.52 361.11 L463.32 361.15 L464.13 361.18 L464.93 361.21 L465.74 361.23 L466.54 361.26 L467.35 361.28 L468.15 361.31 L468.96 361.33 L469.76 361.35 L470.57 361.37 L471.37 361.39 L472.18 361.41 L472.98 361.43 L473.79 361.45 L474.59 361.46 L475.40 361.48 L476.20 361.49 L477.01 361.51 L477.81 361.52 L478.62 361.53 L479.42 361.54 L480.23 361.55 L481.03 361.56 L481.84 361.57 L482.64 361.58 L483.45 361.59 L484.25 361.60 L485.06 361.61 L485.86 361.62 L486.67 361.63 L487.47 361.63 L488.28 361.64 L489.08 361.65 L489.89 361.65 L490.69 361.66 L491.50 361.66 L492.30 361.67 L493.11 361.67 L493.91 361.68 L494.72 361.68 L495.52 361.69 L496.33 361.69 L497.13 361.70 L497.94 361.70 L498.74 361.70 L499.55 361.71 L500.35 361.71 L501.16 361.71 L501.96 361.72 L502.77 361.72 L503.57 361.72 L504.38 361.72 L505.18 361.73 L505.99 361.73 L506.79 361.73 L507.60 361.73 L508.40 361.73 L509.21 361.74 L510.01 361.74 L510.82 361.74 L511.62 361.74 L512.43 361.74 L513.23 361.74 L514.04 361.74 L514.84 361.75 L515.65 361.75 L516.45 361.75 L517.26 361.75 L518.06 361.75 L518.87 361.75 L519.67 361.75 L520.48 361.75 L521.28 361.75 L522.09 361.75 L522.89 361.76 L523.70 361.76 L524.50 361.76 L525.31 361.76 L526.11 361.76 L526.92 361.76 L527.72 361.76 L528.53 361.76 L529.33 361.76 L530.14 361.76 L530.94 361.76 L531.75 361.76 L532.55 361.76 L533.36 361.76 L534.16 361.76 L534.97 361.76 L535.77 361.76 L536.58 361.76 L537.38 361.76 L538.19 361.76 L538.99 361.76 L539.80 361.76 L540.60 361.77 L541.41 361.77 L542.21 361.77 L543.02 361.77 L543.82 361.77 L544.63 361.77 L545.43 361.77 L546.24 361.77 L547.04 361.77 L547.85 361.77 L548.65 361.77 L549.46 361.77 L550.26 361.77 L551.07 361.77 L551.87 361.77 L552.68 361.77 L553.48 361.77 L554.29 361.77 L555.09 361.77 L555.90 361.77" stroke="#f5a672" stroke-width="2.1" fill="none" stroke-linejoin="round"/>
<path d="M395.70 375.69 L396.51 375.76 L397.31 375.83 L398.12 375.91 L398.92 376.00 L399.73 376.10 L400.53 376.20 L401.34 376.31 L402.14 376.44 L402.95 376.57 L403.75 376.71 L404.56 376.86 L405.36 377.03 L406.17 377.21 L406.97 377.40 L407.78 377.60 L408.58 377.82 L409.39 378.06 L410.19 378.31 L411.00 378.58 L411.80 378.86 L412.61 379.16 L413.41 379.48 L414.22 379.82 L415.02 380.18 L415.83 380.55 L416.63 380.95 L417.44 381.36 L418.24 381.79 L419.05 382.24 L419.85 382.70 L420.66 383.19 L421.46 383.69 L422.27 384.20 L423.07 384.73 L423.88 385.28 L424.68 385.83 L425.49 386.40 L426.29 386.98 L427.10 387.56 L427.90 388.16 L428.71 388.75 L429.51 389.36 L430.32 389.96 L431.12 390.57 L431.93 391.17 L432.73 391.78 L433.54 392.37 L434.34 392.97 L435.15 393.56 L435.95 394.13 L436.76 394.70 L437.56 395.26 L438.37 395.81 L439.17 396.35 L439.98 396.87 L440.78 397.38 L441.59 397.88 L442.39 398.36 L443.20 398.82 L444.00 399.27 L444.81 399.71 L445.61 400.13 L446.42 400.53 L447.22 400.92 L448.03 401.29 L448.83 401.64 L449.64 401.98 L450.44 402.31 L451.25 402.62 L452.05 402.92 L452.86 403.20 L453.66 403.47 L454.47 403.72 L455.27 403.97 L456.08 404.20 L456.88 404.42 L457.69 404.62 L458.49 404.82 L459.30 405.01 L460.10 405.18 L460.91 405.35 L461.71 405.51 L462.52 405.65 L463.32 405.79 L464.13 405.93 L464.93 406.05 L465.74 406.17 L466.54 406.28 L467.35 406.38 L468.15 406.48 L468.96 406.57 L469.76 406.66 L470.57 406.74 L471.37 406.82 L472.18 406.89 L472.98 406.96 L473.79 407.03 L474.59 407.09 L475.40 407.14 L476.20 407.19 L477.01 407.24 L477.81 407.29 L478.62 407.34 L479.42 407.38 L480.23 407.42 L481.03 407.45 L481.84 407.49 L482.64 407.52 L483.45 407.55 L484.25 407.58 L485.06 407.60 L485.86 407.63 L486.67 407.65 L487.47 407.67 L488.28 407.69 L489.08 407.71 L489.89 407.73 L490.69 407.75 L491.50 407.76 L492.30 407.78 L493.11 407.79 L493.91 407.80 L494.72 407.82 L495.52 407.83 L496.33 407.84 L497.13 407.85 L497.94 407.86 L498.74 407.87 L499.55 407.87 L500.35 407.88 L501.16 407.89 L501.96 407.90 L502.77 407.90 L503.57 407.91 L504.38 407.91 L505.18 407.92 L505.99 407.92 L506.79 407.93 L507.60 407.93 L508.40 407.94 L509.21 407.94 L510.01 407.94 L510.82 407.95 L511.62 407.95 L512.43 407.95 L513.23 407.96 L514.04 407.96 L514.84 407.96 L515.65 407.96 L516.45 407.97 L517.26 407.97 L518.06 407.97 L518.87 407.97 L519.67 407.97 L520.48 407.97 L521.28 407.98 L522.09 407.98 L522.89 407.98 L523.70 407.98 L524.50 407.98 L525.31 407.98 L526.11 407.98 L526.92 407.98 L527.72 407.98 L528.53 407.99 L529.33 407.99 L530.14 407.99 L530.94 407.99 L531.75 407.99 L532.55 407.99 L533.36 407.99 L534.16 407.99 L534.97 407.99 L535.77 407.99 L536.58 407.99 L537.38 407.99 L538.19 407.99 L538.99 407.99 L539.80 407.99 L540.60 407.99 L541.41 407.99 L542.21 407.99 L543.02 407.99 L543.82 407.99 L544.63 407.99 L545.43 407.99 L546.24 407.99 L547.04 407.99 L547.85 407.99 L548.65 407.99 L549.46 407.99 L550.26 407.99 L551.07 408.00 L551.87 408.00 L552.68 408.00 L553.48 408.00 L554.29 408.00 L555.09 408.00 L555.90 408.00" stroke="#ed7461" stroke-width="2.1" fill="none" stroke-linejoin="round"/>
<path d="M395.70 408.26 L396.51 408.35 L397.31 408.45 L398.12 408.55 L398.92 408.65 L399.73 408.76 L400.53 408.87 L401.34 408.99 L402.14 409.12 L402.95 409.25 L403.75 409.38 L404.56 409.52 L405.36 409.67 L406.17 409.83 L406.97 409.99 L407.78 410.16 L408.58 410.34 L409.39 410.52 L410.19 410.71 L411.00 410.91 L411.80 411.12 L412.61 411.34 L413.41 411.56 L414.22 411.80 L415.02 412.04 L415.83 412.29 L416.63 412.55 L417.44 412.82 L418.24 413.10 L419.05 413.39 L419.85 413.69 L420.66 414.00 L421.46 414.31 L422.27 414.64 L423.07 414.97 L423.88 415.32 L424.68 415.67 L425.49 416.03 L426.29 416.39 L427.10 416.77 L427.90 417.15 L428.71 417.54 L429.51 417.93 L430.32 418.32 L431.12 418.72 L431.93 419.13 L432.73 419.53 L433.54 419.94 L434.34 420.35 L435.15 420.75 L435.95 421.16 L436.76 421.56 L437.56 421.96 L438.37 422.35 L439.17 422.74 L439.98 423.13 L440.78 423.50 L441.59 423.87 L442.39 424.23 L443.20 424.58 L444.00 424.92 L444.81 425.26 L445.61 425.58 L446.42 425.89 L447.22 426.19 L448.03 426.48 L448.83 426.75 L449.64 427.02 L450.44 427.27 L451.25 427.51 L452.05 427.74 L452.86 427.96 L453.66 428.17 L454.47 428.37 L455.27 428.56 L456.08 428.74 L456.88 428.90 L457.69 429.06 L458.49 429.21 L459.30 429.35 L460.10 429.48 L460.91 429.61 L461.71 429.73 L462.52 429.83 L463.32 429.94 L464.13 430.03 L464.93 430.12 L465.74 430.21 L466.54 430.28 L467.35 430.36 L468.15 430.43 L468.96 430.49 L469.76 430.55 L470.57 430.60 L471.37 430.66 L472.18 430.70 L472.98 430.75 L473.79 430.79 L474.59 430.83 L475.40 430.86 L476.20 430.90 L477.01 430.93 L477.81 430.96 L478.62 430.98 L479.42 431.01 L480.23 431.03 L481.03 431.05 L481.84 431.07 L482.64 431.09 L483.45 431.11 L484.25 431.12 L485.06 431.14 L485.86 431.15 L486.67 431.17 L487.47 431.18 L488.28 431.19 L489.08 431.20 L489.89 431.21 L490.69 431.22 L491.50 431.22 L492.30 431.23 L493.11 431.24 L493.91 431.25 L494.72 431.25 L495.52 431.26 L496.33 431.26 L497.13 431.27 L497.94 431.27 L498.74 431.28 L499.55 431.28 L500.35 431.28 L501.16 431.29 L501.96 431.29 L502.77 431.29 L503.57 431.29 L504.38 431.30 L505.18 431.30 L505.99 431.30 L506.79 431.30 L507.60 431.30 L508.40 431.31 L509.21 431.31 L510.01 431.31 L510.82 431.31 L511.62 431.31 L512.43 431.31 L513.23 431.31 L514.04 431.31 L514.84 431.32 L515.65 431.32 L516.45 431.32 L517.26 431.32 L518.06 431.32 L518.87 431.32 L519.67 431.32 L520.48 431.32 L521.28 431.32 L522.09 431.32 L522.89 431.32 L523.70 431.32 L524.50 431.32 L525.31 431.32 L526.11 431.32 L526.92 431.32 L527.72 431.32 L528.53 431.32 L529.33 431.32 L530.14 431.32 L530.94 431.32 L531.75 431.32 L532.55 431.32 L533.36 431.32 L534.16 431.32 L534.97 431.32 L535.77 431.32 L536.58 431.32 L537.38 431.32 L538.19 431.32 L538.99 431.33 L539.80 431.33 L540.60 431.33 L541.41 431.33 L542.21 431.33 L543.02 431.33 L543.82 431.33 L544.63 431.33 L545.43 431.33 L546.24 431.33 L547.04 431.33 L547.85 431.33 L548.65 431.33 L549.46 431.33 L550.26 431.33 L551.07 431.33 L551.87 431.33 L552.68 431.33 L553.48 431.33 L554.29 431.33 L555.09 431.33 L555.90 431.33" stroke="#d03b48" stroke-width="2.1" fill="none" stroke-linejoin="round"/>
<path d="M395.70 426.59 L396.51 426.61 L397.31 426.63 L398.12 426.66 L398.92 426.68 L399.73 426.70 L400.53 426.73 L401.34 426.76 L402.14 426.79 L402.95 426.82 L403.75 426.85 L404.56 426.88 L405.36 426.91 L406.17 426.95 L406.97 426.98 L407.78 427.02 L408.58 427.06 L409.39 427.10 L410.19 427.14 L411.00 427.18 L411.80 427.23 L412.61 427.28 L413.41 427.33 L414.22 427.38 L415.02 427.43 L415.83 427.48 L416.63 427.54 L417.44 427.60 L418.24 427.66 L419.05 427.72 L419.85 427.79 L420.66 427.85 L421.46 427.92 L422.27 427.99 L423.07 428.07 L423.88 428.14 L424.68 428.22 L425.49 428.30 L426.29 428.38 L427.10 428.47 L427.90 428.55 L428.71 428.64 L429.51 428.73 L430.32 428.82 L431.12 428.92 L431.93 429.02 L432.73 429.12 L433.54 429.22 L434.34 429.32 L435.15 429.42 L435.95 429.53 L436.76 429.63 L437.56 429.74 L438.37 429.85 L439.17 429.96 L439.98 430.07 L440.78 430.19 L441.59 430.30 L442.39 430.41 L443.20 430.53 L444.00 430.64 L444.81 430.76 L445.61 430.87 L446.42 430.98 L447.22 431.10 L448.03 431.21 L448.83 431.32 L449.64 431.43 L450.44 431.54 L451.25 431.65 L452.05 431.76 L452.86 431.87 L453.66 431.97 L454.47 432.07 L455.27 432.17 L456.08 432.27 L456.88 432.37 L457.69 432.46 L458.49 432.55 L459.30 432.64 L460.10 432.73 L460.91 432.82 L461.71 432.90 L462.52 432.98 L463.32 433.06 L464.13 433.13 L464.93 433.21 L465.74 433.28 L466.54 433.35 L467.35 433.41 L468.15 433.48 L468.96 433.54 L469.76 433.60 L470.57 433.65 L471.37 433.71 L472.18 433.76 L472.98 433.81 L473.79 433.86 L474.59 433.90 L475.40 433.95 L476.20 433.99 L477.01 434.03 L477.81 434.07 L478.62 434.10 L479.42 434.14 L480.23 434.17 L481.03 434.20 L481.84 434.23 L482.64 434.26 L483.45 434.29 L484.25 434.32 L485.06 434.34 L485.86 434.37 L486.67 434.39 L487.47 434.41 L488.28 434.43 L489.08 434.45 L489.89 434.47 L490.69 434.48 L491.50 434.50 L492.30 434.52 L493.11 434.53 L493.91 434.55 L494.72 434.56 L495.52 434.57 L496.33 434.58 L497.13 434.59 L497.94 434.61 L498.74 434.62 L499.55 434.63 L500.35 434.63 L501.16 434.64 L501.96 434.65 L502.77 434.66 L503.57 434.67 L504.38 434.67 L505.18 434.68 L505.99 434.69 L506.79 434.69 L507.60 434.70 L508.40 434.70 L509.21 434.71 L510.01 434.71 L510.82 434.72 L511.62 434.72 L512.43 434.73 L513.23 434.73 L514.04 434.73 L514.84 434.74 L515.65 434.74 L516.45 434.74 L517.26 434.74 L518.06 434.75 L518.87 434.75 L519.67 434.75 L520.48 434.75 L521.28 434.76 L522.09 434.76 L522.89 434.76 L523.70 434.76 L524.50 434.76 L525.31 434.77 L526.11 434.77 L526.92 434.77 L527.72 434.77 L528.53 434.77 L529.33 434.77 L530.14 434.77 L530.94 434.78 L531.75 434.78 L532.55 434.78 L533.36 434.78 L534.16 434.78 L534.97 434.78 L535.77 434.78 L536.58 434.78 L537.38 434.78 L538.19 434.78 L538.99 434.78 L539.80 434.78 L540.60 434.78 L541.41 434.78 L542.21 434.79 L543.02 434.79 L543.82 434.79 L544.63 434.79 L545.43 434.79 L546.24 434.79 L547.04 434.79 L547.85 434.79 L548.65 434.79 L549.46 434.79 L550.26 434.79 L551.07 434.79 L551.87 434.79 L552.68 434.79 L553.48 434.79 L554.29 434.79 L555.09 434.79 L555.90 434.79" stroke="#a5193a" stroke-width="2.1" fill="none" stroke-linejoin="round"/>
<path d="M411.00 340.10 L411.19 340.57 L411.38 341.03 L411.56 341.50 L411.75 341.97 L411.94 342.44 L412.12 342.91 L412.31 343.38 L412.49 343.85 L412.68 344.32 L412.86 344.79 L413.05 345.26 L413.24 345.72 L413.43 346.19 L413.62 346.65 L413.81 347.12 L414.00 347.58 L414.20 348.04 L414.40 348.49 L414.60 348.95 L414.80 349.40 L415.01 349.85 L415.22 350.29 L415.43 350.72 L415.65 351.15 L415.87 351.58 L416.09 352.01 L416.32 352.43 L416.55 352.85 L416.77 353.27 L417.00 353.69 L417.23 354.12 L417.45 354.54 L417.68 354.97 L417.91 355.40 L418.13 355.83 L418.35 356.27 L418.57 356.72 L418.78 357.17 L418.99 357.63 L419.20 358.10 L419.40 358.58 L419.61 359.06 L419.81 359.55 L420.00 360.04 L420.20 360.54 L420.39 361.05 L420.59 361.56 L420.78 362.07 L420.97 362.59 L421.16 363.11 L421.34 363.63 L421.53 364.15 L421.72 364.67 L421.90 365.19 L422.09 365.71 L422.27 366.24 L422.45 366.76 L422.63 367.27 L422.82 367.79 L423.00 368.30 L423.18 368.80 L423.36 369.30 L423.54 369.79 L423.71 370.27 L423.89 370.75 L424.06 371.22 L424.24 371.70 L424.41 372.17 L424.58 372.65 L424.75 373.13 L424.92 373.62 L425.09 374.11 L425.26 374.61 L425.44 375.12 L425.61 375.65 L425.79 376.18 L425.96 376.74 L426.14 377.31 L426.32 377.89 L426.50 378.50 L426.69 379.13 L426.88 379.79 L427.08 380.47 L427.28 381.17 L427.49 381.89 L427.69 382.62 L427.90 383.37 L428.11 384.12 L428.32 384.89 L428.53 385.66 L428.74 386.43 L428.94 387.20 L429.14 387.96 L429.33 388.72 L429.51 389.47 L429.69 390.21 L429.86 390.94 L430.02 391.64 L430.16 392.33 L430.30 393.00 L430.42 393.64 L430.53 394.27 L430.63 394.88 L430.72 395.47 L430.80 396.06 L430.88 396.63 L430.94 397.19 L431.00 397.75 L431.06 398.30 L431.11 398.85 L431.16 399.40 L431.21 399.95 L431.26 400.51 L431.31 401.07 L431.36 401.64 L431.42 402.23 L431.48 402.82 L431.55 403.43 L431.62 404.06 L431.70 404.70 L431.79 405.37 L431.87 406.07 L431.96 406.79 L432.05 407.54 L432.14 408.30 L432.23 409.07 L432.32 409.85 L432.41 410.64 L432.51 411.44 L432.61 412.23 L432.71 413.01 L432.81 413.78 L432.91 414.55 L433.01 415.29 L433.12 416.02 L433.23 416.72 L433.35 417.39 L433.46 418.03 L433.58 418.63 L433.70 419.20 L433.82 419.73 L433.94 420.23 L434.06 420.71 L434.17 421.17 L434.29 421.60 L434.41 422.01 L434.53 422.40 L434.65 422.78 L434.78 423.14 L434.91 423.48 L435.04 423.81 L435.18 424.13 L435.33 424.45 L435.48 424.75 L435.64 425.05 L435.81 425.34 L435.99 425.63 L436.18 425.92 L436.39 426.21 L436.60 426.50 L436.83 426.79 L437.07 427.06 L437.32 427.32 L437.59 427.57 L437.86 427.80 L438.15 428.03 L438.44 428.25 L438.74 428.47 L439.05 428.68 L439.36 428.88 L439.68 429.08 L440.00 429.28 L440.32 429.48 L440.64 429.67 L440.95 429.87 L441.27 430.07 L441.59 430.27 L441.90 430.47 L442.20 430.68 L442.50 430.90" stroke="#000" stroke-width="2.35" fill="none" stroke-linecap="round" stroke-dasharray="0.01 2.75"/>
<rect x="395.70" y="333.30" width="160.20" height="102.90" fill="none" stroke="#858585" stroke-width="1.5"/>
<path d="M395.70 384.75 h1.8 M555.90 384.75 h-1.8 M475.80 436.20 v-1.8 M475.80 333.30 v1.8" stroke="#777" stroke-width="1"/>
<text x="384.76" y="441.15" font-size="14.00" font-weight="normal" fill="#000">0</text>
<text x="373.13" y="389.70" font-size="14.00" font-weight="normal" fill="#000">0.5</text>
<text x="384.00" y="338.10" font-size="14.00" font-weight="normal" fill="#000">1</text>
<text x="383.75" y="455.90" font-size="14.00">10</text>
<text x="399.02" y="447.80" font-size="9.00">-1</text>
<text x="465.35" y="455.90" font-size="14.00">10</text>
<text x="480.62" y="447.80" font-size="9.00">1</text>
<text x="545.43" y="455.90" font-size="14.00">10</text>
<text x="560.70" y="447.80" font-size="9.00">3</text>
<text x="448.74" y="471.50" font-size="13.80">[S</text>
<text x="461.78" y="478.20" font-size="10.30">T</text>
<text x="468.07" y="471.50" font-size="13.80">] [µM]</text>
<text transform="translate(365.74 384.75) rotate(-90)" x="-24.29" y="0" font-size="13.80">[R] [µM]</text>
<text x="433.41" y="382.50" font-size="13.30" font-weight="normal" fill="#111">EC</text>
<text x="452.18" y="386.10" font-size="9.2" fill="#222" style="stroke:none">50</text>
<path d="M147.00 523.20 L147.80 523.19 L148.61 523.18 L149.41 523.18 L150.22 523.17 L151.02 523.16 L151.82 523.15 L152.63 523.14 L153.43 523.13 L154.24 523.13 L155.04 523.12 L155.84 523.11 L156.65 523.10 L157.45 523.09 L158.26 523.09 L159.06 523.08 L159.86 523.07 L160.67 523.06 L161.47 523.05 L162.28 523.04 L163.08 523.03 L163.88 523.03 L164.69 523.02 L165.49 523.01 L166.30 523.00 L167.10 522.99 L167.90 522.98 L168.71 522.98 L169.51 522.97 L170.32 522.96 L171.12 522.95 L171.92 522.94 L172.73 522.93 L173.53 522.92 L174.34 522.91 L175.14 522.91 L175.94 522.90 L176.75 522.89 L177.55 522.88 L178.36 522.87 L179.16 522.86 L179.96 522.85 L180.77 522.84 L181.57 522.83 L182.38 522.83 L183.18 522.82 L183.98 522.81 L184.79 522.80 L185.59 522.79 L186.40 522.78 L187.20 522.77 L188.01 522.76 L188.81 522.75 L189.61 522.74 L190.42 522.74 L191.22 522.73 L192.03 522.72 L192.83 522.71 L193.63 522.70 L194.44 522.69 L195.24 522.68 L196.05 522.67 L196.85 522.66 L197.65 522.65 L198.46 522.64 L199.26 522.63 L200.07 522.62 L200.87 522.61 L201.67 522.61 L202.48 522.60 L203.28 522.59 L204.09 522.58 L204.89 522.57 L205.69 522.56 L206.50 522.55 L207.30 522.54 L208.11 522.53 L208.91 522.52 L209.71 522.51 L210.52 522.50 L211.32 522.49 L212.13 522.48 L212.93 522.47 L213.73 522.46 L214.54 522.45 L215.34 522.44 L216.15 522.43 L216.95 522.42 L217.75 522.41 L218.56 522.40 L219.36 522.39 L220.17 522.38 L220.97 522.37 L221.77 522.36 L222.58 522.35 L223.38 522.34 L224.19 522.33 L224.99 522.32 L225.79 522.31 L226.60 522.30 L227.40 522.30 L228.21 522.29 L229.01 522.28 L229.81 522.27 L230.62 522.25 L231.42 522.24 L232.23 522.23 L233.03 522.22 L233.83 522.21 L234.64 522.20 L235.44 522.19 L236.25 522.18 L237.05 522.17 L237.85 522.16 L238.66 522.15 L239.46 522.14 L240.27 522.13 L241.07 522.12 L241.87 522.11 L242.68 522.10 L243.48 522.09 L244.29 522.08 L245.09 522.07 L245.89 522.06 L246.70 522.05 L247.50 522.04 L248.31 522.03 L249.11 522.02 L249.91 522.01 L250.72 522.00 L251.52 521.99 L252.33 521.97 L253.13 521.96 L253.93 521.95 L254.74 521.94 L255.54 521.93 L256.35 521.92 L257.15 521.91 L257.95 521.90 L258.76 521.89 L259.56 521.88 L260.37 521.87 L261.17 521.86 L261.97 521.85 L262.78 521.83 L263.58 521.82 L264.39 521.81 L265.19 521.80 L265.99 521.79 L266.80 521.78 L267.60 521.77 L268.41 521.76 L269.21 521.75 L270.02 521.73 L270.82 521.72 L271.62 521.71 L272.43 521.70 L273.23 521.69 L274.04 521.68 L274.84 521.67 L275.64 521.66 L276.45 521.64 L277.25 521.63 L278.06 521.62 L278.86 521.61 L279.66 521.60 L280.47 521.59 L281.27 521.58 L282.08 521.56 L282.88 521.55 L283.68 521.54 L284.49 521.53 L285.29 521.52 L286.10 521.51 L286.90 521.50 L287.70 521.48 L288.51 521.47 L289.31 521.46 L290.12 521.45 L290.92 521.44 L291.72 521.43 L292.53 521.41 L293.33 521.40 L294.14 521.39 L294.94 521.38 L295.74 521.37 L296.55 521.36 L297.35 521.34 L298.16 521.33 L298.96 521.32 L299.76 521.31 L300.57 521.30 L301.37 521.28 L302.18 521.27 L302.98 521.26 L303.78 521.25 L304.59 521.24 L305.39 521.22 L306.20 521.21 L307.00 521.20" stroke="#ebefdc" stroke-width="2.1" fill="none" stroke-linejoin="round"/>
<path d="M147.00 533.12 L147.80 533.11 L148.61 533.10 L149.41 533.09 L150.22 533.08 L151.02 533.07 L151.83 533.06 L152.63 533.05 L153.44 533.04 L154.24 533.03 L155.05 533.02 L155.85 533.01 L156.65 533.00 L157.46 532.98 L158.26 532.97 L159.07 532.96 L159.87 532.94 L160.68 532.93 L161.48 532.92 L162.29 532.90 L163.09 532.89 L163.89 532.87 L164.70 532.86 L165.50 532.84 L166.31 532.82 L167.11 532.80 L167.92 532.79 L168.72 532.77 L169.53 532.75 L170.33 532.73 L171.14 532.71 L171.94 532.69 L172.74 532.66 L173.55 532.64 L174.35 532.62 L175.16 532.59 L175.96 532.57 L176.77 532.54 L177.57 532.52 L178.38 532.49 L179.18 532.46 L179.99 532.43 L180.79 532.40 L181.59 532.37 L182.40 532.34 L183.20 532.31 L184.01 532.28 L184.81 532.24 L185.62 532.21 L186.42 532.17 L187.23 532.13 L188.03 532.09 L188.84 532.05 L189.64 532.01 L190.44 531.97 L191.25 531.92 L192.05 531.88 L192.86 531.83 L193.66 531.78 L194.47 531.73 L195.27 531.68 L196.08 531.63 L196.88 531.57 L197.68 531.52 L198.49 531.46 L199.29 531.40 L200.10 531.34 L200.90 531.28 L201.71 531.21 L202.51 531.14 L203.32 531.08 L204.12 531.00 L204.93 530.93 L205.73 530.86 L206.53 530.78 L207.34 530.70 L208.14 530.62 L208.95 530.53 L209.75 530.45 L210.56 530.36 L211.36 530.27 L212.17 530.17 L212.97 530.07 L213.78 529.98 L214.58 529.87 L215.38 529.77 L216.19 529.66 L216.99 529.55 L217.80 529.44 L218.60 529.33 L219.41 529.21 L220.21 529.09 L221.02 528.96 L221.82 528.84 L222.63 528.71 L223.43 528.58 L224.23 528.44 L225.04 528.31 L225.84 528.17 L226.65 528.03 L227.45 527.89 L228.26 527.74 L229.06 527.59 L229.87 527.44 L230.67 527.29 L231.47 527.14 L232.28 526.98 L233.08 526.83 L233.89 526.67 L234.69 526.52 L235.50 526.36 L236.30 526.20 L237.11 526.04 L237.91 525.88 L238.72 525.73 L239.52 525.57 L240.32 525.41 L241.13 525.26 L241.93 525.11 L242.74 524.96 L243.54 524.81 L244.35 524.66 L245.15 524.52 L245.96 524.38 L246.76 524.24 L247.57 524.11 L248.37 523.98 L249.17 523.85 L249.98 523.73 L250.78 523.61 L251.59 523.49 L252.39 523.38 L253.20 523.27 L254.00 523.17 L254.81 523.07 L255.61 522.97 L256.42 522.88 L257.22 522.80 L258.02 522.72 L258.83 522.64 L259.63 522.56 L260.44 522.49 L261.24 522.42 L262.05 522.36 L262.85 522.30 L263.66 522.24 L264.46 522.19 L265.26 522.14 L266.07 522.09 L266.87 522.05 L267.68 522.01 L268.48 521.97 L269.29 521.93 L270.09 521.90 L270.90 521.86 L271.70 521.83 L272.51 521.81 L273.31 521.78 L274.11 521.75 L274.92 521.73 L275.72 521.71 L276.53 521.69 L277.33 521.67 L278.14 521.65 L278.94 521.64 L279.75 521.62 L280.55 521.61 L281.36 521.59 L282.16 521.58 L282.96 521.57 L283.77 521.56 L284.57 521.55 L285.38 521.54 L286.18 521.53 L286.99 521.52 L287.79 521.52 L288.60 521.51 L289.40 521.50 L290.21 521.50 L291.01 521.49 L291.81 521.49 L292.62 521.48 L293.42 521.48 L294.23 521.47 L295.03 521.47 L295.84 521.47 L296.64 521.46 L297.45 521.46 L298.25 521.46 L299.05 521.46 L299.86 521.45 L300.66 521.45 L301.47 521.45 L302.27 521.45 L303.08 521.44 L303.88 521.44 L304.69 521.44 L305.49 521.44 L306.30 521.44 L307.10 521.44" stroke="#9dd5ee" stroke-width="2.1" fill="none" stroke-linejoin="round"/>
<path d="M147.00 557.53 L147.80 557.52 L148.61 557.51 L149.41 557.50 L150.22 557.49 L151.02 557.48 L151.83 557.46 L152.63 557.45 L153.44 557.44 L154.24 557.42 L155.05 557.41 L155.85 557.39 L156.65 557.38 L157.46 557.36 L158.26 557.34 L159.07 557.33 L159.87 557.31 L160.68 557.29 L161.48 557.27 L162.29 557.25 L163.09 557.23 L163.89 557.20 L164.70 557.18 L165.50 557.16 L166.31 557.13 L167.11 557.10 L167.92 557.08 L168.72 557.05 L169.53 557.02 L170.33 556.99 L171.14 556.96 L171.94 556.92 L172.74 556.89 L173.55 556.85 L174.35 556.82 L175.16 556.78 L175.96 556.74 L176.77 556.69 L177.57 556.65 L178.38 556.61 L179.18 556.56 L179.99 556.51 L180.79 556.46 L181.59 556.41 L182.40 556.35 L183.20 556.29 L184.01 556.23 L184.81 556.17 L185.62 556.11 L186.42 556.04 L187.23 555.97 L188.03 555.90 L188.84 555.83 L189.64 555.75 L190.44 555.67 L191.25 555.59 L192.05 555.50 L192.86 555.41 L193.66 555.32 L194.47 555.22 L195.27 555.12 L196.08 555.01 L196.88 554.91 L197.68 554.79 L198.49 554.68 L199.29 554.56 L200.10 554.43 L200.90 554.30 L201.71 554.17 L202.51 554.03 L203.32 553.88 L204.12 553.73 L204.93 553.58 L205.73 553.42 L206.53 553.25 L207.34 553.08 L208.14 552.90 L208.95 552.72 L209.75 552.53 L210.56 552.34 L211.36 552.13 L212.17 551.92 L212.97 551.71 L213.78 551.49 L214.58 551.26 L215.38 551.02 L216.19 550.78 L216.99 550.53 L217.80 550.27 L218.60 550.01 L219.41 549.74 L220.21 549.46 L221.02 549.18 L221.82 548.88 L222.63 548.58 L223.43 548.28 L224.23 547.96 L225.04 547.64 L225.84 547.32 L226.65 546.98 L227.45 546.64 L228.26 546.30 L229.06 545.94 L229.87 545.59 L230.67 545.22 L231.47 544.86 L232.28 544.48 L233.08 544.11 L233.89 543.73 L234.69 543.35 L235.50 542.96 L236.30 542.57 L237.11 542.18 L237.91 541.79 L238.72 541.40 L239.52 541.01 L240.32 540.62 L241.13 540.23 L241.93 539.84 L242.74 539.45 L243.54 539.07 L244.35 538.69 L245.15 538.31 L245.96 537.94 L246.76 537.57 L247.57 537.20 L248.37 536.85 L249.17 536.50 L249.98 536.15 L250.78 535.81 L251.59 535.48 L252.39 535.16 L253.20 534.84 L254.00 534.54 L254.81 534.24 L255.61 533.95 L256.42 533.66 L257.22 533.39 L258.02 533.12 L258.83 532.87 L259.63 532.62 L260.44 532.38 L261.24 532.15 L262.05 531.93 L262.85 531.71 L263.66 531.51 L264.46 531.31 L265.26 531.12 L266.07 530.94 L266.87 530.77 L267.68 530.60 L268.48 530.44 L269.29 530.29 L270.09 530.14 L270.90 530.01 L271.70 529.87 L272.51 529.75 L273.31 529.63 L274.11 529.52 L274.92 529.41 L275.72 529.30 L276.53 529.21 L277.33 529.11 L278.14 529.02 L278.94 528.94 L279.75 528.86 L280.55 528.79 L281.36 528.71 L282.16 528.65 L282.96 528.58 L283.77 528.52 L284.57 528.46 L285.38 528.41 L286.18 528.36 L286.99 528.31 L287.79 528.26 L288.60 528.22 L289.40 528.18 L290.21 528.14 L291.01 528.10 L291.81 528.07 L292.62 528.04 L293.42 528.01 L294.23 527.98 L295.03 527.95 L295.84 527.92 L296.64 527.90 L297.45 527.87 L298.25 527.85 L299.05 527.83 L299.86 527.81 L300.66 527.79 L301.47 527.78 L302.27 527.76 L303.08 527.75 L303.88 527.73 L304.69 527.72 L305.49 527.70 L306.30 527.69 L307.10 527.68" stroke="#38b6e7" stroke-width="2.1" fill="none" stroke-linejoin="round"/>
<path d="M147.00 590.84 L147.80 590.84 L148.61 590.84 L149.41 590.83 L150.22 590.83 L151.02 590.82 L151.83 590.82 L152.63 590.82 L153.44 590.81 L154.24 590.81 L155.05 590.80 L155.85 590.80 L156.65 590.79 L157.46 590.78 L158.26 590.78 L159.07 590.77 L159.87 590.76 L160.68 590.76 L161.48 590.75 L162.29 590.74 L163.09 590.73 L163.89 590.72 L164.70 590.71 L165.50 590.70 L166.31 590.69 L167.11 590.68 L167.92 590.67 L168.72 590.65 L169.53 590.64 L170.33 590.63 L171.14 590.61 L171.94 590.60 L172.74 590.58 L173.55 590.56 L174.35 590.54 L175.16 590.52 L175.96 590.50 L176.77 590.48 L177.57 590.46 L178.38 590.43 L179.18 590.41 L179.99 590.38 L180.79 590.35 L181.59 590.32 L182.40 590.29 L183.20 590.26 L184.01 590.23 L184.81 590.19 L185.62 590.15 L186.42 590.11 L187.23 590.07 L188.03 590.02 L188.84 589.98 L189.64 589.93 L190.44 589.87 L191.25 589.82 L192.05 589.76 L192.86 589.70 L193.66 589.64 L194.47 589.57 L195.27 589.50 L196.08 589.42 L196.88 589.34 L197.68 589.26 L198.49 589.17 L199.29 589.08 L200.10 588.99 L200.90 588.89 L201.71 588.78 L202.51 588.67 L203.32 588.55 L204.12 588.43 L204.93 588.30 L205.73 588.17 L206.53 588.02 L207.34 587.87 L208.14 587.72 L208.95 587.56 L209.75 587.39 L210.56 587.21 L211.36 587.02 L212.17 586.82 L212.97 586.62 L213.78 586.40 L214.58 586.18 L215.38 585.95 L216.19 585.70 L216.99 585.45 L217.80 585.18 L218.60 584.90 L219.41 584.62 L220.21 584.32 L221.02 584.00 L221.82 583.68 L222.63 583.34 L223.43 582.99 L224.23 582.63 L225.04 582.25 L225.84 581.86 L226.65 581.46 L227.45 581.04 L228.26 580.61 L229.06 580.16 L229.87 579.71 L230.67 579.23 L231.47 578.75 L232.28 578.25 L233.08 577.74 L233.89 577.21 L234.69 576.68 L235.50 576.13 L236.30 575.56 L237.11 574.99 L237.91 574.41 L238.72 573.81 L239.52 573.21 L240.32 572.59 L241.13 571.97 L241.93 571.34 L242.74 570.71 L243.54 570.06 L244.35 569.42 L245.15 568.77 L245.96 568.11 L246.76 567.46 L247.57 566.80 L248.37 566.14 L249.17 565.48 L249.98 564.83 L250.78 564.18 L251.59 563.53 L252.39 562.89 L253.20 562.25 L254.00 561.62 L254.81 560.99 L255.61 560.37 L256.42 559.77 L257.22 559.17 L258.02 558.58 L258.83 558.00 L259.63 557.44 L260.44 556.88 L261.24 556.34 L262.05 555.81 L262.85 555.30 L263.66 554.80 L264.46 554.31 L265.26 553.83 L266.07 553.37 L266.87 552.93 L267.68 552.49 L268.48 552.07 L269.29 551.67 L270.09 551.28 L270.90 550.90 L271.70 550.53 L272.51 550.18 L273.31 549.85 L274.11 549.52 L274.92 549.21 L275.72 548.91 L276.53 548.62 L277.33 548.35 L278.14 548.08 L278.94 547.83 L279.75 547.58 L280.55 547.35 L281.36 547.13 L282.16 546.92 L282.96 546.72 L283.77 546.52 L284.57 546.34 L285.38 546.16 L286.18 545.99 L286.99 545.83 L287.79 545.68 L288.60 545.54 L289.40 545.40 L290.21 545.27 L291.01 545.14 L291.81 545.02 L292.62 544.91 L293.42 544.80 L294.23 544.70 L295.03 544.60 L295.84 544.51 L296.64 544.42 L297.45 544.34 L298.25 544.26 L299.05 544.18 L299.86 544.11 L300.66 544.04 L301.47 543.98 L302.27 543.92 L303.08 543.86 L303.88 543.80 L304.69 543.75 L305.49 543.70 L306.30 543.66 L307.10 543.61" stroke="#159bdb" stroke-width="2.1" fill="none" stroke-linejoin="round"/>
<path d="M147.00 610.81 L147.80 610.81 L148.61 610.81 L149.41 610.80 L150.22 610.80 L151.02 610.80 L151.83 610.80 L152.63 610.80 L153.44 610.79 L154.24 610.79 L155.05 610.79 L155.85 610.79 L156.65 610.78 L157.46 610.78 L158.26 610.78 L159.07 610.77 L159.87 610.77 L160.68 610.76 L161.48 610.76 L162.29 610.76 L163.09 610.75 L163.89 610.75 L164.70 610.74 L165.50 610.74 L166.31 610.73 L167.11 610.73 L167.92 610.72 L168.72 610.71 L169.53 610.71 L170.33 610.70 L171.14 610.69 L171.94 610.68 L172.74 610.67 L173.55 610.67 L174.35 610.66 L175.16 610.65 L175.96 610.64 L176.77 610.63 L177.57 610.61 L178.38 610.60 L179.18 610.59 L179.99 610.58 L180.79 610.56 L181.59 610.55 L182.40 610.53 L183.20 610.52 L184.01 610.50 L184.81 610.48 L185.62 610.46 L186.42 610.44 L187.23 610.42 L188.03 610.40 L188.84 610.38 L189.64 610.35 L190.44 610.33 L191.25 610.30 L192.05 610.27 L192.86 610.24 L193.66 610.21 L194.47 610.18 L195.27 610.14 L196.08 610.10 L196.88 610.07 L197.68 610.03 L198.49 609.98 L199.29 609.94 L200.10 609.89 L200.90 609.84 L201.71 609.79 L202.51 609.74 L203.32 609.68 L204.12 609.62 L204.93 609.56 L205.73 609.49 L206.53 609.42 L207.34 609.35 L208.14 609.27 L208.95 609.19 L209.75 609.11 L210.56 609.02 L211.36 608.92 L212.17 608.83 L212.97 608.73 L213.78 608.62 L214.58 608.51 L215.38 608.39 L216.19 608.26 L216.99 608.13 L217.80 608.00 L218.60 607.86 L219.41 607.71 L220.21 607.55 L221.02 607.39 L221.82 607.22 L222.63 607.04 L223.43 606.86 L224.23 606.66 L225.04 606.46 L225.84 606.25 L226.65 606.03 L227.45 605.80 L228.26 605.56 L229.06 605.31 L229.87 605.06 L230.67 604.79 L231.47 604.51 L232.28 604.22 L233.08 603.91 L233.89 603.60 L234.69 603.28 L235.50 602.94 L236.30 602.59 L237.11 602.23 L237.91 601.86 L238.72 601.48 L239.52 601.09 L240.32 600.68 L241.13 600.26 L241.93 599.83 L242.74 599.39 L243.54 598.94 L244.35 598.47 L245.15 598.00 L245.96 597.51 L246.76 597.02 L247.57 596.51 L248.37 596.00 L249.17 595.47 L249.98 594.94 L250.78 594.41 L251.59 593.86 L252.39 593.31 L253.20 592.76 L254.00 592.20 L254.81 591.64 L255.61 591.07 L256.42 590.50 L257.22 589.93 L258.02 589.37 L258.83 588.80 L259.63 588.23 L260.44 587.67 L261.24 587.11 L262.05 586.56 L262.85 586.01 L263.66 585.47 L264.46 584.93 L265.26 584.40 L266.07 583.88 L266.87 583.37 L267.68 582.86 L268.48 582.37 L269.29 581.89 L270.09 581.42 L270.90 580.96 L271.70 580.51 L272.51 580.07 L273.31 579.65 L274.11 579.24 L274.92 578.84 L275.72 578.45 L276.53 578.07 L277.33 577.71 L278.14 577.36 L278.94 577.02 L279.75 576.70 L280.55 576.39 L281.36 576.09 L282.16 575.80 L282.96 575.52 L283.77 575.25 L284.57 575.00 L285.38 574.75 L286.18 574.52 L286.99 574.29 L287.79 574.08 L288.60 573.87 L289.40 573.68 L290.21 573.49 L291.01 573.32 L291.81 573.15 L292.62 572.98 L293.42 572.83 L294.23 572.68 L295.03 572.55 L295.84 572.41 L296.64 572.29 L297.45 572.17 L298.25 572.06 L299.05 571.95 L299.86 571.85 L300.66 571.75 L301.47 571.66 L302.27 571.57 L303.08 571.49 L303.88 571.41 L304.69 571.33 L305.49 571.26 L306.30 571.20 L307.10 571.13" stroke="#0e5fae" stroke-width="2.1" fill="none" stroke-linejoin="round"/>
<path d="M237.50 521.30 L237.53 521.81 L237.56 522.31 L237.58 522.82 L237.61 523.32 L237.63 523.82 L237.65 524.32 L237.67 524.81 L237.70 525.31 L237.72 525.81 L237.74 526.31 L237.77 526.81 L237.80 527.32 L237.82 527.83 L237.85 528.34 L237.89 528.85 L237.92 529.37 L237.96 529.89 L238.00 530.42 L238.05 530.96 L238.10 531.50 L238.15 532.05 L238.21 532.60 L238.26 533.16 L238.32 533.73 L238.38 534.30 L238.44 534.88 L238.50 535.46 L238.57 536.04 L238.64 536.62 L238.71 537.21 L238.78 537.80 L238.86 538.39 L238.94 538.98 L239.02 539.58 L239.11 540.17 L239.20 540.76 L239.29 541.35 L239.39 541.93 L239.49 542.52 L239.60 543.10 L239.71 543.68 L239.83 544.26 L239.94 544.84 L240.07 545.42 L240.19 546.00 L240.32 546.58 L240.45 547.16 L240.59 547.74 L240.73 548.31 L240.87 548.89 L241.01 549.47 L241.16 550.05 L241.32 550.63 L241.48 551.21 L241.64 551.79 L241.80 552.37 L241.97 552.95 L242.14 553.54 L242.32 554.12 L242.50 554.70 L242.69 555.28 L242.88 555.87 L243.07 556.45 L243.27 557.04 L243.48 557.62 L243.68 558.21 L243.90 558.79 L244.11 559.38 L244.33 559.96 L244.56 560.55 L244.78 561.14 L245.01 561.72 L245.24 562.31 L245.47 562.89 L245.71 563.48 L245.94 564.06 L246.18 564.65 L246.42 565.23 L246.66 565.82 L246.90 566.40 L247.14 566.98 L247.38 567.56 L247.63 568.14 L247.88 568.72 L248.13 569.30 L248.38 569.88 L248.64 570.46 L248.89 571.04 L249.15 571.62 L249.41 572.20 L249.67 572.78 L249.94 573.36 L250.20 573.94 L250.47 574.52 L250.74 575.10 L251.01 575.68 L251.28 576.26 L251.55 576.84 L251.83 577.42 L252.10 578.00 L252.38 578.58 L252.66 579.17 L252.94 579.75 L253.22 580.33 L253.51 580.92 L253.80 581.50 L254.09 582.09 L254.38 582.67 L254.67 583.26 L254.96 583.84 L255.26 584.43 L255.55 585.02 L255.85 585.60 L256.14 586.19 L256.44 586.77 L256.73 587.36 L257.02 587.94 L257.32 588.53 L257.61 589.11 L257.90 589.70" stroke="#000" stroke-width="2.35" fill="none" stroke-linecap="round" stroke-dasharray="0.01 2.75"/>
<rect x="147.00" y="518.30" width="160.10" height="103.00" fill="none" stroke="#858585" stroke-width="1.5"/>
<path d="M147.00 569.80 h1.8 M307.10 569.80 h-1.8 M227.05 621.30 v-1.8 M227.05 518.30 v1.8" stroke="#777" stroke-width="1"/>
<text x="136.06" y="626.25" font-size="14.00" font-weight="normal" fill="#000">0</text>
<text x="124.43" y="574.75" font-size="14.00" font-weight="normal" fill="#000">0.5</text>
<text x="135.30" y="523.10" font-size="14.00" font-weight="normal" fill="#000">1</text>
<text x="135.05" y="641.00" font-size="14.00">10</text>
<text x="150.32" y="632.90" font-size="9.00">-1</text>
<text x="216.60" y="641.00" font-size="14.00">10</text>
<text x="231.87" y="632.90" font-size="9.00">1</text>
<text x="296.63" y="641.00" font-size="14.00">10</text>
<text x="311.90" y="632.90" font-size="9.00">3</text>
<text x="199.99" y="656.60" font-size="13.80">[S</text>
<text x="213.03" y="663.30" font-size="10.30">T</text>
<text x="219.32" y="656.60" font-size="13.80">] [µM]</text>
<text transform="translate(117.04 569.80) rotate(-90)" x="-24.29" y="0" font-size="13.80">[R] [µM]</text>
<text x="211.21" y="567.90" font-size="13.30" font-weight="normal" fill="#111">EC</text>
<text x="229.98" y="571.50" font-size="9.2" fill="#222" style="stroke:none">50</text>
<path d="M395.70 523.20 L396.50 523.23 L397.31 523.27 L398.11 523.30 L398.91 523.33 L399.72 523.37 L400.52 523.40 L401.32 523.43 L402.13 523.46 L402.93 523.50 L403.74 523.53 L404.54 523.56 L405.34 523.59 L406.15 523.63 L406.95 523.66 L407.75 523.69 L408.56 523.73 L409.36 523.76 L410.16 523.79 L410.97 523.82 L411.77 523.85 L412.57 523.89 L413.38 523.92 L414.18 523.95 L414.98 523.98 L415.79 524.02 L416.59 524.05 L417.39 524.08 L418.20 524.11 L419.00 524.14 L419.81 524.18 L420.61 524.21 L421.41 524.24 L422.22 524.27 L423.02 524.30 L423.82 524.34 L424.63 524.37 L425.43 524.40 L426.23 524.43 L427.04 524.46 L427.84 524.49 L428.64 524.53 L429.45 524.56 L430.25 524.59 L431.05 524.62 L431.86 524.65 L432.66 524.68 L433.47 524.71 L434.27 524.74 L435.07 524.78 L435.88 524.81 L436.68 524.84 L437.48 524.87 L438.29 524.90 L439.09 524.93 L439.89 524.97 L440.70 525.00 L441.50 525.03 L442.30 525.07 L443.11 525.10 L443.91 525.14 L444.71 525.17 L445.52 525.20 L446.32 525.24 L447.13 525.27 L447.93 525.31 L448.73 525.34 L449.54 525.38 L450.34 525.41 L451.14 525.45 L451.95 525.48 L452.75 525.51 L453.55 525.55 L454.36 525.58 L455.16 525.62 L455.96 525.65 L456.77 525.68 L457.57 525.71 L458.37 525.75 L459.18 525.78 L459.98 525.81 L460.78 525.84 L461.59 525.87 L462.39 525.90 L463.20 525.93 L464.00 525.96 L464.80 525.99 L465.61 526.02 L466.41 526.04 L467.21 526.07 L468.02 526.09 L468.82 526.12 L469.62 526.14 L470.43 526.17 L471.23 526.19 L472.03 526.21 L472.84 526.23 L473.64 526.25 L474.44 526.27 L475.25 526.29 L476.05 526.31 L476.86 526.32 L477.66 526.34 L478.46 526.36 L479.27 526.38 L480.07 526.39 L480.87 526.41 L481.68 526.43 L482.48 526.44 L483.28 526.46 L484.09 526.48 L484.89 526.49 L485.69 526.51 L486.50 526.53 L487.30 526.54 L488.10 526.56 L488.91 526.58 L489.71 526.59 L490.52 526.61 L491.32 526.62 L492.12 526.64 L492.93 526.66 L493.73 526.67 L494.53 526.69 L495.34 526.70 L496.14 526.72 L496.94 526.73 L497.75 526.75 L498.55 526.77 L499.35 526.78 L500.16 526.80 L500.96 526.81 L501.76 526.83 L502.57 526.84 L503.37 526.86 L504.17 526.87 L504.98 526.88 L505.78 526.90 L506.59 526.91 L507.39 526.93 L508.19 526.94 L509.00 526.95 L509.80 526.97 L510.60 526.98 L511.41 526.99 L512.21 527.01 L513.01 527.02 L513.82 527.03 L514.62 527.05 L515.42 527.06 L516.23 527.07 L517.03 527.08 L517.83 527.09 L518.64 527.11 L519.44 527.12 L520.25 527.13 L521.05 527.14 L521.85 527.15 L522.66 527.16 L523.46 527.17 L524.26 527.18 L525.07 527.19 L525.87 527.20 L526.67 527.21 L527.48 527.22 L528.28 527.23 L529.08 527.24 L529.89 527.25 L530.69 527.26 L531.49 527.27 L532.30 527.28 L533.10 527.28 L533.91 527.29 L534.71 527.30 L535.51 527.31 L536.32 527.31 L537.12 527.32 L537.92 527.33 L538.73 527.33 L539.53 527.34 L540.33 527.34 L541.14 527.35 L541.94 527.36 L542.74 527.36 L543.55 527.37 L544.35 527.37 L545.15 527.37 L545.96 527.38 L546.76 527.38 L547.56 527.38 L548.37 527.39 L549.17 527.39 L549.98 527.39 L550.78 527.39 L551.58 527.40 L552.39 527.40 L553.19 527.40 L553.99 527.40 L554.80 527.40 L555.60 527.40" stroke="#f7da9a" stroke-width="2.1" fill="none" stroke-linejoin="round"/>
<path d="M395.70 533.69 L396.51 533.71 L397.31 533.74 L398.12 533.77 L398.92 533.80 L399.73 533.84 L400.53 533.87 L401.34 533.91 L402.14 533.95 L402.95 533.98 L403.75 534.02 L404.56 534.07 L405.36 534.11 L406.17 534.16 L406.97 534.20 L407.78 534.25 L408.58 534.30 L409.39 534.36 L410.19 534.41 L411.00 534.47 L411.80 534.53 L412.61 534.59 L413.41 534.65 L414.22 534.72 L415.02 534.79 L415.83 534.86 L416.63 534.93 L417.44 535.01 L418.24 535.08 L419.05 535.16 L419.85 535.25 L420.66 535.33 L421.46 535.42 L422.27 535.51 L423.07 535.60 L423.88 535.70 L424.68 535.80 L425.49 535.90 L426.29 536.00 L427.10 536.10 L427.90 536.21 L428.71 536.32 L429.51 536.44 L430.32 536.55 L431.12 536.67 L431.93 536.79 L432.73 536.91 L433.54 537.04 L434.34 537.16 L435.15 537.29 L435.95 537.42 L436.76 537.56 L437.56 537.69 L438.37 537.83 L439.17 537.97 L439.98 538.11 L440.78 538.25 L441.59 538.39 L442.39 538.53 L443.20 538.68 L444.00 538.82 L444.81 538.97 L445.61 539.12 L446.42 539.26 L447.22 539.41 L448.03 539.56 L448.83 539.71 L449.64 539.86 L450.44 540.01 L451.25 540.16 L452.05 540.30 L452.86 540.45 L453.66 540.60 L454.47 540.75 L455.27 540.89 L456.08 541.04 L456.88 541.18 L457.69 541.32 L458.49 541.46 L459.30 541.60 L460.10 541.74 L460.91 541.88 L461.71 542.01 L462.52 542.14 L463.32 542.28 L464.13 542.40 L464.93 542.53 L465.74 542.66 L466.54 542.78 L467.35 542.90 L468.15 543.02 L468.96 543.14 L469.76 543.25 L470.57 543.36 L471.37 543.47 L472.18 543.58 L472.98 543.69 L473.79 543.79 L474.59 543.89 L475.40 543.99 L476.20 544.08 L477.01 544.18 L477.81 544.27 L478.62 544.36 L479.42 544.44 L480.23 544.53 L481.03 544.61 L481.84 544.69 L482.64 544.77 L483.45 544.84 L484.25 544.92 L485.06 544.99 L485.86 545.06 L486.67 545.13 L487.47 545.19 L488.28 545.25 L489.08 545.32 L489.89 545.37 L490.69 545.43 L491.50 545.49 L492.30 545.54 L493.11 545.59 L493.91 545.64 L494.72 545.69 L495.52 545.74 L496.33 545.79 L497.13 545.83 L497.94 545.87 L498.74 545.92 L499.55 545.96 L500.35 545.99 L501.16 546.03 L501.96 546.07 L502.77 546.10 L503.57 546.14 L504.38 546.17 L505.18 546.20 L505.99 546.23 L506.79 546.26 L507.60 546.29 L508.40 546.31 L509.21 546.34 L510.01 546.36 L510.82 546.39 L511.62 546.41 L512.43 546.43 L513.23 546.46 L514.04 546.48 L514.84 546.50 L515.65 546.52 L516.45 546.54 L517.26 546.55 L518.06 546.57 L518.87 546.59 L519.67 546.60 L520.48 546.62 L521.28 546.63 L522.09 546.65 L522.89 546.66 L523.70 546.67 L524.50 546.69 L525.31 546.70 L526.11 546.71 L526.92 546.72 L527.72 546.73 L528.53 546.74 L529.33 546.75 L530.14 546.76 L530.94 546.77 L531.75 546.78 L532.55 546.79 L533.36 546.80 L534.16 546.81 L534.97 546.82 L535.77 546.82 L536.58 546.83 L537.38 546.84 L538.19 546.84 L538.99 546.85 L539.80 546.86 L540.60 546.86 L541.41 546.87 L542.21 546.87 L543.02 546.88 L543.82 546.88 L544.63 546.89 L545.43 546.89 L546.24 546.90 L547.04 546.90 L547.85 546.90 L548.65 546.91 L549.46 546.91 L550.26 546.92 L551.07 546.92 L551.87 546.92 L552.68 546.93 L553.48 546.93 L554.29 546.93 L555.09 546.94 L555.90 546.94" stroke="#f5a672" stroke-width="2.1" fill="none" stroke-linejoin="round"/>
<path d="M395.70 558.18 L396.51 558.24 L397.31 558.30 L398.12 558.36 L398.92 558.43 L399.73 558.50 L400.53 558.57 L401.34 558.65 L402.14 558.73 L402.95 558.81 L403.75 558.90 L404.56 558.99 L405.36 559.09 L406.17 559.19 L406.97 559.29 L407.78 559.40 L408.58 559.51 L409.39 559.63 L410.19 559.75 L411.00 559.87 L411.80 560.01 L412.61 560.14 L413.41 560.28 L414.22 560.43 L415.02 560.59 L415.83 560.74 L416.63 560.91 L417.44 561.08 L418.24 561.26 L419.05 561.44 L419.85 561.63 L420.66 561.83 L421.46 562.03 L422.27 562.24 L423.07 562.46 L423.88 562.68 L424.68 562.92 L425.49 563.15 L426.29 563.40 L427.10 563.65 L427.90 563.91 L428.71 564.18 L429.51 564.46 L430.32 564.74 L431.12 565.03 L431.93 565.32 L432.73 565.63 L433.54 565.94 L434.34 566.26 L435.15 566.58 L435.95 566.91 L436.76 567.25 L437.56 567.59 L438.37 567.94 L439.17 568.30 L439.98 568.66 L440.78 569.03 L441.59 569.41 L442.39 569.78 L443.20 570.17 L444.00 570.55 L444.81 570.95 L445.61 571.34 L446.42 571.74 L447.22 572.14 L448.03 572.54 L448.83 572.95 L449.64 573.36 L450.44 573.77 L451.25 574.18 L452.05 574.59 L452.86 575.00 L453.66 575.42 L454.47 575.83 L455.27 576.24 L456.08 576.65 L456.88 577.05 L457.69 577.46 L458.49 577.86 L459.30 578.26 L460.10 578.66 L460.91 579.05 L461.71 579.44 L462.52 579.83 L463.32 580.21 L464.13 580.59 L464.93 580.96 L465.74 581.32 L466.54 581.69 L467.35 582.04 L468.15 582.39 L468.96 582.73 L469.76 583.07 L470.57 583.40 L471.37 583.73 L472.18 584.05 L472.98 584.36 L473.79 584.66 L474.59 584.96 L475.40 585.25 L476.20 585.54 L477.01 585.81 L477.81 586.08 L478.62 586.35 L479.42 586.61 L480.23 586.86 L481.03 587.10 L481.84 587.34 L482.64 587.57 L483.45 587.79 L484.25 588.01 L485.06 588.22 L485.86 588.43 L486.67 588.62 L487.47 588.82 L488.28 589.00 L489.08 589.18 L489.89 589.36 L490.69 589.53 L491.50 589.69 L492.30 589.85 L493.11 590.00 L493.91 590.15 L494.72 590.30 L495.52 590.43 L496.33 590.57 L497.13 590.70 L497.94 590.82 L498.74 590.94 L499.55 591.06 L500.35 591.17 L501.16 591.28 L501.96 591.38 L502.77 591.48 L503.57 591.58 L504.38 591.67 L505.18 591.76 L505.99 591.84 L506.79 591.93 L507.60 592.01 L508.40 592.08 L509.21 592.16 L510.01 592.23 L510.82 592.30 L511.62 592.36 L512.43 592.43 L513.23 592.49 L514.04 592.55 L514.84 592.60 L515.65 592.66 L516.45 592.71 L517.26 592.76 L518.06 592.81 L518.87 592.85 L519.67 592.90 L520.48 592.94 L521.28 592.98 L522.09 593.02 L522.89 593.06 L523.70 593.09 L524.50 593.13 L525.31 593.16 L526.11 593.19 L526.92 593.22 L527.72 593.25 L528.53 593.28 L529.33 593.31 L530.14 593.33 L530.94 593.36 L531.75 593.38 L532.55 593.41 L533.36 593.43 L534.16 593.45 L534.97 593.47 L535.77 593.49 L536.58 593.51 L537.38 593.53 L538.19 593.54 L538.99 593.56 L539.80 593.57 L540.60 593.59 L541.41 593.60 L542.21 593.62 L543.02 593.63 L543.82 593.64 L544.63 593.66 L545.43 593.67 L546.24 593.68 L547.04 593.69 L547.85 593.70 L548.65 593.71 L549.46 593.72 L550.26 593.73 L551.07 593.74 L551.87 593.75 L552.68 593.76 L553.48 593.76 L554.29 593.77 L555.09 593.78 L555.90 593.79" stroke="#ed7461" stroke-width="2.1" fill="none" stroke-linejoin="round"/>
<path d="M395.70 592.02 L396.51 592.07 L397.31 592.12 L398.12 592.18 L398.92 592.23 L399.73 592.29 L400.53 592.35 L401.34 592.41 L402.14 592.48 L402.95 592.54 L403.75 592.61 L404.56 592.69 L405.36 592.76 L406.17 592.84 L406.97 592.92 L407.78 593.00 L408.58 593.09 L409.39 593.18 L410.19 593.27 L411.00 593.36 L411.80 593.46 L412.61 593.57 L413.41 593.67 L414.22 593.78 L415.02 593.90 L415.83 594.01 L416.63 594.13 L417.44 594.26 L418.24 594.39 L419.05 594.52 L419.85 594.66 L420.66 594.81 L421.46 594.95 L422.27 595.11 L423.07 595.26 L423.88 595.43 L424.68 595.59 L425.49 595.77 L426.29 595.94 L427.10 596.13 L427.90 596.31 L428.71 596.51 L429.51 596.70 L430.32 596.91 L431.12 597.12 L431.93 597.33 L432.73 597.55 L433.54 597.78 L434.34 598.01 L435.15 598.25 L435.95 598.49 L436.76 598.73 L437.56 598.99 L438.37 599.24 L439.17 599.51 L439.98 599.77 L440.78 600.04 L441.59 600.32 L442.39 600.60 L443.20 600.89 L444.00 601.17 L444.81 601.47 L445.61 601.76 L446.42 602.06 L447.22 602.36 L448.03 602.67 L448.83 602.97 L449.64 603.28 L450.44 603.59 L451.25 603.90 L452.05 604.22 L452.86 604.53 L453.66 604.84 L454.47 605.15 L455.27 605.46 L456.08 605.77 L456.88 606.08 L457.69 606.39 L458.49 606.70 L459.30 607.00 L460.10 607.30 L460.91 607.59 L461.71 607.89 L462.52 608.18 L463.32 608.46 L464.13 608.74 L464.93 609.01 L465.74 609.28 L466.54 609.55 L467.35 609.81 L468.15 610.06 L468.96 610.31 L469.76 610.55 L470.57 610.79 L471.37 611.02 L472.18 611.24 L472.98 611.46 L473.79 611.67 L474.59 611.88 L475.40 612.07 L476.20 612.27 L477.01 612.45 L477.81 612.63 L478.62 612.80 L479.42 612.97 L480.23 613.13 L481.03 613.29 L481.84 613.44 L482.64 613.58 L483.45 613.72 L484.25 613.85 L485.06 613.98 L485.86 614.10 L486.67 614.22 L487.47 614.33 L488.28 614.44 L489.08 614.54 L489.89 614.64 L490.69 614.74 L491.50 614.83 L492.30 614.91 L493.11 615.00 L493.91 615.07 L494.72 615.15 L495.52 615.22 L496.33 615.29 L497.13 615.35 L497.94 615.42 L498.74 615.48 L499.55 615.53 L500.35 615.59 L501.16 615.64 L501.96 615.68 L502.77 615.73 L503.57 615.77 L504.38 615.82 L505.18 615.86 L505.99 615.89 L506.79 615.93 L507.60 615.96 L508.40 616.00 L509.21 616.03 L510.01 616.06 L510.82 616.08 L511.62 616.11 L512.43 616.14 L513.23 616.16 L514.04 616.18 L514.84 616.20 L515.65 616.22 L516.45 616.24 L517.26 616.26 L518.06 616.28 L518.87 616.30 L519.67 616.31 L520.48 616.33 L521.28 616.34 L522.09 616.35 L522.89 616.37 L523.70 616.38 L524.50 616.39 L525.31 616.40 L526.11 616.41 L526.92 616.42 L527.72 616.43 L528.53 616.44 L529.33 616.45 L530.14 616.45 L530.94 616.46 L531.75 616.47 L532.55 616.47 L533.36 616.48 L534.16 616.49 L534.97 616.49 L535.77 616.50 L536.58 616.50 L537.38 616.51 L538.19 616.51 L538.99 616.52 L539.80 616.52 L540.60 616.52 L541.41 616.53 L542.21 616.53 L543.02 616.53 L543.82 616.54 L544.63 616.54 L545.43 616.54 L546.24 616.55 L547.04 616.55 L547.85 616.55 L548.65 616.55 L549.46 616.56 L550.26 616.56 L551.07 616.56 L551.87 616.56 L552.68 616.56 L553.48 616.56 L554.29 616.57 L555.09 616.57 L555.90 616.57" stroke="#d03b48" stroke-width="2.1" fill="none" stroke-linejoin="round"/>
<path d="M395.70 611.04 L396.51 611.06 L397.31 611.09 L398.12 611.11 L398.92 611.14 L399.73 611.17 L400.53 611.20 L401.34 611.23 L402.14 611.26 L402.95 611.29 L403.75 611.32 L404.56 611.35 L405.36 611.39 L406.17 611.42 L406.97 611.46 L407.78 611.49 L408.58 611.53 L409.39 611.57 L410.19 611.61 L411.00 611.65 L411.80 611.70 L412.61 611.74 L413.41 611.79 L414.22 611.83 L415.02 611.88 L415.83 611.93 L416.63 611.98 L417.44 612.04 L418.24 612.09 L419.05 612.15 L419.85 612.20 L420.66 612.26 L421.46 612.32 L422.27 612.38 L423.07 612.45 L423.88 612.51 L424.68 612.58 L425.49 612.65 L426.29 612.72 L427.10 612.79 L427.90 612.87 L428.71 612.94 L429.51 613.02 L430.32 613.10 L431.12 613.18 L431.93 613.27 L432.73 613.35 L433.54 613.44 L434.34 613.53 L435.15 613.62 L435.95 613.71 L436.76 613.81 L437.56 613.90 L438.37 614.00 L439.17 614.10 L439.98 614.20 L440.78 614.31 L441.59 614.41 L442.39 614.52 L443.20 614.62 L444.00 614.73 L444.81 614.84 L445.61 614.95 L446.42 615.06 L447.22 615.17 L448.03 615.29 L448.83 615.40 L449.64 615.51 L450.44 615.63 L451.25 615.74 L452.05 615.86 L452.86 615.97 L453.66 616.08 L454.47 616.20 L455.27 616.31 L456.08 616.42 L456.88 616.53 L457.69 616.64 L458.49 616.75 L459.30 616.86 L460.10 616.97 L460.91 617.07 L461.71 617.17 L462.52 617.27 L463.32 617.37 L464.13 617.47 L464.93 617.57 L465.74 617.66 L466.54 617.75 L467.35 617.84 L468.15 617.92 L468.96 618.00 L469.76 618.08 L470.57 618.16 L471.37 618.24 L472.18 618.31 L472.98 618.38 L473.79 618.45 L474.59 618.51 L475.40 618.58 L476.20 618.64 L477.01 618.70 L477.81 618.75 L478.62 618.80 L479.42 618.86 L480.23 618.90 L481.03 618.95 L481.84 619.00 L482.64 619.04 L483.45 619.08 L484.25 619.12 L485.06 619.15 L485.86 619.19 L486.67 619.22 L487.47 619.25 L488.28 619.28 L489.08 619.31 L489.89 619.34 L490.69 619.36 L491.50 619.39 L492.30 619.41 L493.11 619.43 L493.91 619.45 L494.72 619.47 L495.52 619.49 L496.33 619.51 L497.13 619.53 L497.94 619.54 L498.74 619.56 L499.55 619.57 L500.35 619.58 L501.16 619.59 L501.96 619.61 L502.77 619.62 L503.57 619.63 L504.38 619.64 L505.18 619.65 L505.99 619.66 L506.79 619.66 L507.60 619.67 L508.40 619.68 L509.21 619.69 L510.01 619.69 L510.82 619.70 L511.62 619.70 L512.43 619.71 L513.23 619.71 L514.04 619.72 L514.84 619.72 L515.65 619.73 L516.45 619.73 L517.26 619.74 L518.06 619.74 L518.87 619.74 L519.67 619.75 L520.48 619.75 L521.28 619.75 L522.09 619.75 L522.89 619.76 L523.70 619.76 L524.50 619.76 L525.31 619.76 L526.11 619.76 L526.92 619.77 L527.72 619.77 L528.53 619.77 L529.33 619.77 L530.14 619.77 L530.94 619.77 L531.75 619.78 L532.55 619.78 L533.36 619.78 L534.16 619.78 L534.97 619.78 L535.77 619.78 L536.58 619.78 L537.38 619.78 L538.19 619.78 L538.99 619.78 L539.80 619.78 L540.60 619.79 L541.41 619.79 L542.21 619.79 L543.02 619.79 L543.82 619.79 L544.63 619.79 L545.43 619.79 L546.24 619.79 L547.04 619.79 L547.85 619.79 L548.65 619.79 L549.46 619.79 L550.26 619.79 L551.07 619.79 L551.87 619.79 L552.68 619.79 L553.48 619.79 L554.29 619.79 L555.09 619.79 L555.90 619.79" stroke="#a5193a" stroke-width="2.1" fill="none" stroke-linejoin="round"/>
<path d="M447.70 525.60 L447.77 526.19 L447.85 526.77 L447.92 527.36 L447.99 527.94 L448.06 528.53 L448.13 529.11 L448.21 529.70 L448.28 530.28 L448.35 530.87 L448.42 531.46 L448.49 532.04 L448.56 532.63 L448.64 533.21 L448.71 533.80 L448.79 534.38 L448.87 534.97 L448.95 535.55 L449.03 536.13 L449.11 536.72 L449.20 537.30 L449.29 537.88 L449.38 538.46 L449.47 539.03 L449.57 539.60 L449.66 540.17 L449.76 540.74 L449.86 541.31 L449.96 541.88 L450.07 542.44 L450.17 543.01 L450.27 543.58 L450.38 544.16 L450.48 544.73 L450.58 545.31 L450.69 545.90 L450.79 546.49 L450.90 547.08 L451.00 547.68 L451.10 548.29 L451.20 548.90 L451.30 549.52 L451.40 550.15 L451.50 550.78 L451.61 551.42 L451.71 552.07 L451.82 552.72 L451.92 553.37 L452.02 554.03 L452.13 554.69 L452.23 555.36 L452.33 556.02 L452.44 556.69 L452.54 557.36 L452.64 558.02 L452.74 558.69 L452.83 559.36 L452.93 560.02 L453.02 560.68 L453.11 561.34 L453.20 562.00 L453.29 562.66 L453.38 563.33 L453.47 564.01 L453.57 564.69 L453.66 565.38 L453.75 566.07 L453.85 566.76 L453.94 567.45 L454.03 568.14 L454.11 568.82 L454.20 569.50 L454.28 570.18 L454.35 570.84 L454.42 571.49 L454.48 572.13 L454.54 572.76 L454.59 573.37 L454.64 573.97 L454.67 574.54 L454.70 575.10 L454.72 575.63 L454.73 576.15 L454.73 576.64 L454.73 577.12 L454.72 577.58 L454.70 578.03 L454.68 578.47 L454.65 578.89 L454.62 579.31 L454.58 579.72 L454.54 580.12 L454.50 580.52 L454.45 580.92 L454.40 581.32 L454.36 581.72 L454.30 582.12 L454.25 582.53 L454.20 582.95 L454.15 583.37 L454.10 583.80 L454.05 584.23 L454.00 584.66 L453.95 585.09 L453.89 585.51 L453.84 585.93 L453.78 586.34 L453.72 586.76 L453.66 587.18 L453.60 587.60 L453.53 588.02 L453.46 588.44 L453.39 588.87 L453.32 589.31 L453.24 589.75 L453.16 590.20 L453.08 590.66 L452.99 591.13 L452.90 591.61 L452.80 592.10 L452.70 592.60 L452.59 593.12 L452.47 593.67 L452.34 594.23 L452.20 594.81 L452.05 595.40 L451.90 596.01 L451.74 596.62 L451.58 597.24 L451.42 597.87 L451.26 598.49 L451.10 599.12 L450.95 599.74 L450.80 600.35 L450.65 600.95 L450.52 601.54 L450.39 602.11 L450.27 602.67 L450.17 603.20 L450.08 603.71 L450.00 604.20 L449.94 604.67 L449.89 605.12 L449.84 605.56 L449.81 605.99 L449.78 606.41 L449.76 606.82 L449.75 607.21 L449.75 607.60 L449.75 607.97 L449.76 608.34 L449.77 608.69 L449.78 609.04 L449.80 609.37 L449.83 609.70 L449.85 610.02 L449.88 610.33 L449.91 610.64 L449.94 610.93 L449.97 611.22 L450.00 611.50 L450.03 611.77 L450.07 612.02 L450.11 612.26 L450.16 612.48 L450.22 612.70 L450.27 612.90 L450.33 613.09 L450.39 613.27 L450.46 613.45 L450.53 613.62 L450.59 613.78 L450.66 613.95 L450.73 614.11 L450.80 614.27 L450.87 614.43 L450.94 614.60 L451.01 614.76 L451.07 614.94 L451.14 615.11 L451.20 615.30" stroke="#000" stroke-width="2.35" fill="none" stroke-linecap="round" stroke-dasharray="0.01 2.75"/>
<rect x="395.70" y="518.30" width="160.20" height="103.00" fill="none" stroke="#858585" stroke-width="1.5"/>
<path d="M395.70 569.80 h1.8 M555.90 569.80 h-1.8 M475.80 621.30 v-1.8 M475.80 518.30 v1.8" stroke="#777" stroke-width="1"/>
<text x="384.76" y="626.25" font-size="14.00" font-weight="normal" fill="#000">0</text>
<text x="373.13" y="574.75" font-size="14.00" font-weight="normal" fill="#000">0.5</text>
<text x="384.00" y="523.10" font-size="14.00" font-weight="normal" fill="#000">1</text>
<text x="383.75" y="641.00" font-size="14.00">10</text>
<text x="399.02" y="632.90" font-size="9.00">-1</text>
<text x="465.35" y="641.00" font-size="14.00">10</text>
<text x="480.62" y="632.90" font-size="9.00">1</text>
<text x="545.43" y="641.00" font-size="14.00">10</text>
<text x="560.70" y="632.90" font-size="9.00">3</text>
<text x="448.74" y="656.60" font-size="13.80">[S</text>
<text x="461.78" y="663.30" font-size="10.30">T</text>
<text x="468.07" y="656.60" font-size="13.80">] [µM]</text>
<text transform="translate(365.74 569.80) rotate(-90)" x="-24.29" y="0" font-size="13.80">[R] [µM]</text>
<text x="458.31" y="567.90" font-size="13.30" font-weight="normal" fill="#111">EC</text>
<text x="477.08" y="571.50" font-size="9.2" fill="#222" style="stroke:none">50</text>
<text x="104.60" y="140.00" font-size="20.50" font-weight="bold" fill="#000">a</text>
<text x="354.75" y="140.00" font-size="20.50" font-weight="bold" fill="#000">b</text>
<text x="104.40" y="327.00" font-size="20.50" font-weight="bold" fill="#000">c</text>
<text x="354.66" y="326.50" font-size="20.50" font-weight="bold" fill="#000">d</text>
<text x="104.10" y="513.40" font-size="20.50" font-weight="bold" fill="#000">e</text>
<text x="354.75" y="513.10" font-size="20.50" font-weight="bold" fill="#000">f</text>
</svg>
</body></html>
